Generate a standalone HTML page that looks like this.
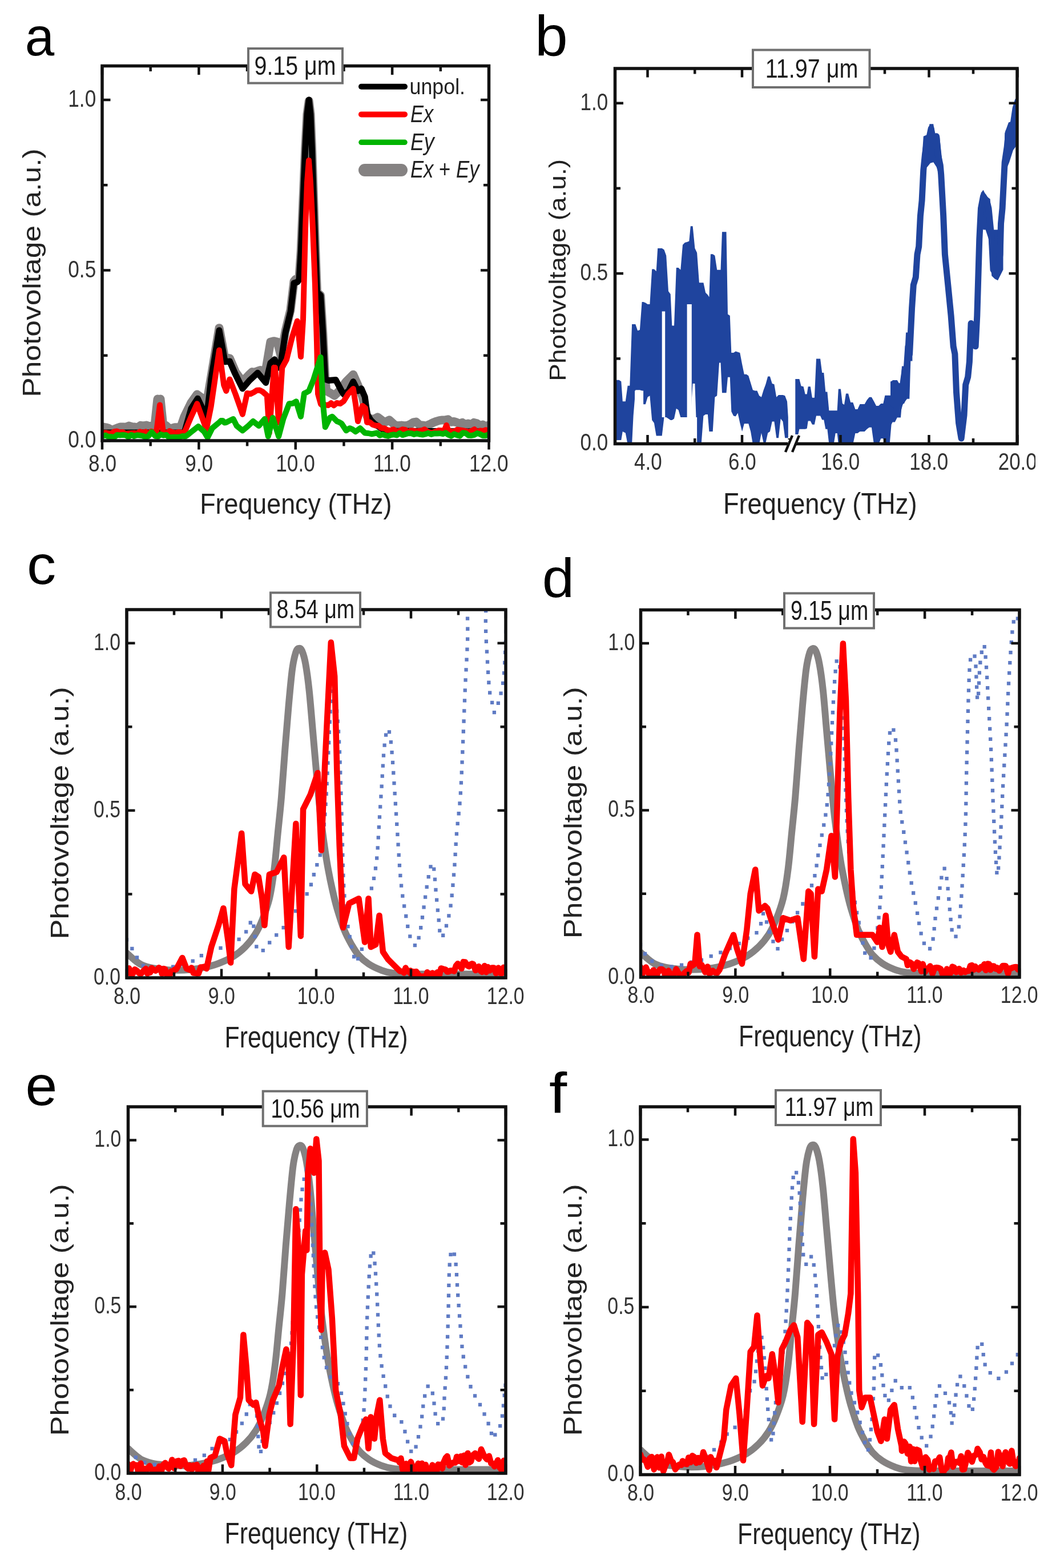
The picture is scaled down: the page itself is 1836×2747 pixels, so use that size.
<!DOCTYPE html>
<html><head><meta charset="utf-8"><style>
html,body{margin:0;padding:0;background:#fff;}
svg{display:block;}
text{font-family:'Liberation Sans', Arial, Helvetica, sans-serif;}
</style></head><body>
<svg width="1836" height="2747" viewBox="0 0 1836 2747">
<rect width="1836" height="2747" fill="#fff"/>
<g id="pa">
<clipPath id="clipa"><rect x="179.00" y="115.50" width="677.50" height="656.50"/></clipPath>
<g clip-path="url(#clipa)">
<polyline points="180.0,748.0 185.1,748.8 190.2,750.3 195.3,753.1 200.4,752.0 205.5,749.8 210.6,748.0 215.7,747.9 220.8,748.2 225.9,746.1 231.0,747.7 236.1,748.1 241.2,748.9 246.3,745.3 251.4,746.2 256.5,745.1 261.6,747.0 266.0,746.0 268.5,747.5 271.0,746.0 276.0,699.0 278.5,700.0 281.0,699.0 286.0,748.0 291.1,745.7 296.2,750.4 301.4,750.3 306.5,748.8 311.6,748.6 316.7,748.0 322.9,730.0 335.0,705.3 345.3,691.0 353.5,697.0 359.6,721.6 369.8,660.4 384.0,574.7 394.3,629.8 398.4,627.1 402.4,627.8 412.7,652.0 424.9,668.6 437.0,656.0 441.8,651.6 446.6,652.1 451.4,650.0 455.9,648.5 460.5,649.8 465.0,652.0 473.9,599.0 479.9,597.7 486.0,599.0 492.2,623.7 500.0,580.0 509.0,543.0 515.0,493.0 518.0,489.2 521.0,490.0 524.0,486.0 527.2,440.0 534.8,260.0 538.0,200.0 541.2,177.0 544.0,200.0 546.5,260.0 552.0,420.0 555.5,512.0 561.6,517.6 565.7,582.9 569.8,664.5 571.8,684.9 576.5,687.4 581.3,690.0 586.0,693.0 594.3,684.9 606.5,668.6 618.8,656.3 627.0,674.7 635.0,695.0 643.3,729.8 649.4,733.9 655.5,734.1 661.6,730.8 673.9,740.0 678.0,738.0 682.0,735.9 692.2,745.1 697.8,745.8 703.5,745.1 709.1,745.9 714.7,745.1 719.5,742.9 724.2,739.9 729.0,739.0 735.1,744.5 741.2,745.1 745.8,746.3 750.4,744.3 755.0,742.3 759.6,740.0 764.7,738.1 769.8,736.6 774.9,735.9 780.0,735.9 785.0,734.8 790.0,739.3 795.0,738.5 800.0,740.0 805.0,742.2 810.0,740.4 815.0,743.8 820.0,742.0 825.1,744.2 830.3,740.4 835.4,741.8 840.6,745.8 845.7,744.0 850.9,747.0 856.0,745.0" fill="none" stroke="#858282" stroke-width="15" stroke-linejoin="round" stroke-linecap="round" />
<polyline points="180.0,758.0 320.0,758.0 322.9,758.0 335.0,715.5 346.3,698.2 357.6,721.6 361.6,736.0 369.8,664.5 384.0,578.8 394.3,633.9 402.4,632.9 412.7,656.3 424.9,680.8 437.1,666.5 451.4,653.3 465.7,670.6 473.9,635.9 481.0,629.8 488.0,644.0 492.0,636.0 500.0,583.0 509.0,546.0 515.0,496.0 521.0,494.0 524.0,490.0 527.2,440.0 534.8,260.0 538.0,200.0 541.2,175.0 544.0,200.0 546.5,260.0 552.0,420.0 555.5,512.0 561.6,517.6 565.7,582.9 569.8,664.5 575.9,666.5 588.2,665.5 598.4,684.9 602.4,691.0 610.6,684.9 618.8,668.6 626.9,684.9 633.0,680.8 639.2,695.1 643.3,725.7 649.4,735.9 655.5,742.0 670.0,752.0 680.0,755.0 856.0,756.0" fill="none" stroke="#000" stroke-width="11" stroke-linejoin="round" stroke-linecap="round" />
<polyline points="180.0,758.4 185.0,758.2 190.0,759.3 195.0,759.4 200.0,756.3 205.0,755.5 210.0,757.6 215.0,757.0 220.0,760.3 225.0,759.5 230.0,759.0 235.0,758.7 240.0,759.4 245.0,756.3 250.0,758.0 255.0,756.4 260.0,760.8 265.0,755.8 270.0,758.4 273.9,758.4 280.0,709.4 286.1,758.4 291.5,759.9 297.0,755.1 302.4,757.3 307.5,758.7 312.6,756.9 317.8,757.6 322.9,758.4 335.0,729.8 345.3,707.3 353.5,729.8 361.6,752.2 369.8,711.4 384.0,613.5 392.2,674.7 396.3,684.9 402.4,664.5 412.7,691.0 424.9,725.7 433.0,689.0 439.1,690.0 445.3,686.9 450.1,683.7 454.8,683.6 459.6,685.9 467.8,693.0 471.8,758.4 480.0,644.0 482.0,644.0 488.2,740.0 494.3,644.0 502.0,630.0 512.0,590.0 520.8,562.4 527.0,625.0 531.0,560.0 535.0,400.0 538.0,320.0 541.0,281.0 544.0,320.0 548.0,400.0 552.0,500.0 555.0,600.0 557.0,690.0 562.0,708.0 566.3,711.2 570.7,709.4 575.0,710.0 580.0,706.2 585.0,710.3 590.0,706.0 596.0,707.2 602.0,703.0 610.0,690.0 618.8,681.0 623.0,708.0 627.0,738.0 635.0,711.0 640.0,715.0 643.0,740.0 648.0,739.7 653.0,744.0 658.0,745.5 663.0,745.8 668.0,750.0 673.3,750.2 678.7,753.4 684.0,754.0 689.3,752.3 694.7,755.8 700.0,755.0 704.9,752.3 709.8,753.0 714.6,756.9 719.5,754.4 724.4,754.5 729.2,755.6 734.1,754.9 739.0,754.3 743.9,752.2 748.8,756.4 753.6,757.8 758.5,757.9 763.4,756.0 768.2,754.1 773.1,754.2 778.0,755.0 782.0,745.0 786.0,755.0 791.0,756.1 796.0,756.0 801.0,752.7 806.0,753.4 811.0,754.2 816.0,755.1 821.0,756.9 826.0,755.0 831.0,752.2 836.0,756.9 841.0,754.6 846.0,755.1 851.0,753.3 856.0,755.0" fill="none" stroke="#ff0000" stroke-width="10" stroke-linejoin="round" stroke-linecap="round" />
<polyline points="180.0,764.0 185.0,762.6 190.0,765.1 195.0,765.1 200.0,766.1 205.0,762.1 210.0,762.4 215.0,761.9 220.0,762.4 225.0,765.4 230.0,761.8 235.0,764.2 240.0,762.3 245.0,762.8 250.0,763.6 255.0,766.0 260.0,764.0 265.7,757.0 272.0,764.0 276.8,764.7 281.6,761.1 286.4,762.7 291.2,761.9 296.0,766.2 300.8,765.9 305.6,765.8 310.4,766.0 315.2,765.5 320.0,764.0 324.3,764.8 328.7,762.0 333.0,758.4 347.3,747.1 357.6,756.3 363.7,766.5 371.8,750.2 384.0,740.0 387.1,737.0 390.2,737.0 393.2,740.6 396.3,740.0 402.5,736.9 408.6,733.9 414.7,746.0 424.9,754.3 435.0,746.0 443.3,738.0 453.5,746.0 463.7,733.9 469.8,764.5 478.0,731.8 488.2,764.5 496.3,733.9 506.5,707.3 512.6,706.8 518.8,703.3 527.0,729.8 533.0,689.0 537.1,687.3 541.2,684.9 549.4,664.5 561.6,625.7 565.7,705.3 569.8,748.2 578.0,731.8 582.0,729.8 590.2,738.0 594.3,739.6 598.4,742.0 606.5,754.3 612.7,750.2 617.8,752.4 622.9,756.3 631.0,750.2 639.2,758.4 645.3,759.0 651.4,760.4 656.0,759.4 660.7,758.4 665.4,762.8 670.0,761.0 675.0,762.8 680.1,763.9 685.1,762.1 690.1,761.3 695.1,762.5 700.2,758.8 705.2,762.1 710.2,760.7 715.2,759.1 720.3,759.2 725.3,761.1 730.3,759.5 735.4,760.8 740.4,761.6 745.4,760.4 750.4,758.8 755.5,760.9 760.5,759.4 765.5,759.4 770.5,759.2 775.6,760.2 780.6,758.4 785.6,761.9 790.6,763.7 795.7,760.3 800.7,762.3 805.7,763.6 810.8,758.3 815.8,758.9 820.8,762.8 825.8,763.0 830.9,761.8 835.9,759.0 840.9,760.5 845.9,763.2 851.0,763.3 856.0,761.0" fill="none" stroke="#00b400" stroke-width="10" stroke-linejoin="round" stroke-linecap="round" />
</g>
</g>
<g id="pb">
<clipPath id="clipb"><rect x="1077.50" y="120.00" width="704.50" height="657.50"/></clipPath>
<g clip-path="url(#clipb)">
<polygon points="1080.0,665.7 1084.5,665.7 1088.3,668.2 1090.8,703.3 1095.8,703.3 1099.6,675.7 1103.3,675.7 1107.1,568.0 1109.6,568.0 1113.3,568.0 1117.1,579.2 1120.9,578.0 1124.6,529.1 1127.1,529.1 1130.9,530.4 1134.6,532.9 1138.4,532.9 1142.2,471.5 1145.9,471.5 1149.7,475.2 1152.2,435.1 1155.9,435.1 1159.7,435.1 1163.5,437.6 1167.2,447.7 1171.0,510.3 1174.7,515.3 1177.3,570.5 1181.0,570.5 1184.8,469.0 1188.5,469.0 1192.3,472.7 1196.0,428.9 1199.8,425.1 1203.6,423.9 1207.3,422.6 1209.8,396.3 1213.6,396.3 1217.4,435.1 1221.1,442.7 1224.9,495.3 1228.6,495.3 1232.4,495.3 1236.1,512.8 1239.9,516.6 1242.4,520.4 1244.9,445.2 1248.7,445.2 1252.4,447.7 1256.2,472.7 1260.0,472.7 1262.5,472.7 1265.0,406.3 1268.7,406.3 1272.5,406.3 1275.0,550.4 1278.8,552.9 1281.3,618.1 1285.0,618.1 1288.8,615.6 1292.5,616.8 1296.3,618.1 1300.1,638.1 1303.8,655.7 1307.6,655.7 1311.3,658.2 1315.1,670.7 1318.9,683.3 1322.6,684.5 1326.4,684.5 1330.1,693.3 1333.9,695.8 1337.7,683.3 1341.4,673.2 1345.2,659.4 1348.9,659.4 1352.7,672.0 1356.4,673.2 1360.2,695.8 1364.0,692.0 1367.7,692.0 1371.5,692.0 1375.2,693.3 1379.0,703.3 1380.8,730.9 1380.8,767.2 1379.0,767.2 1375.2,767.2 1371.5,738.4 1367.7,733.4 1364.0,767.2 1360.2,767.2 1356.4,738.4 1352.7,738.4 1348.9,755.9 1345.2,758.4 1341.4,776.0 1337.7,776.0 1333.9,758.4 1330.1,778.5 1326.4,778.5 1322.6,778.5 1318.9,778.5 1315.1,755.9 1311.3,742.2 1307.6,742.2 1303.8,742.2 1300.1,755.9 1296.3,740.9 1292.5,723.4 1288.8,729.6 1285.0,728.4 1281.3,720.9 1278.8,660.7 1275.0,660.7 1272.5,688.3 1268.7,688.3 1265.0,688.3 1262.5,635.6 1260.0,635.6 1256.2,693.3 1252.4,695.8 1248.7,755.9 1244.9,755.9 1242.4,755.9 1239.9,725.9 1236.1,725.9 1232.4,728.4 1228.6,778.5 1224.9,778.5 1221.1,778.5 1217.4,672.0 1213.6,672.0 1209.8,730.9 1207.3,730.9 1203.6,730.9 1199.8,730.9 1196.0,730.9 1192.3,730.9 1188.5,718.3 1184.8,715.8 1181.0,733.4 1177.3,735.9 1174.7,735.9 1171.0,733.4 1167.2,730.9 1163.5,730.9 1159.7,763.5 1155.9,763.5 1152.2,763.5 1149.7,763.5 1145.9,740.9 1142.2,735.9 1138.4,693.3 1134.6,695.8 1130.9,708.3 1127.1,708.3 1124.6,684.5 1120.9,683.3 1117.1,683.3 1113.3,683.3 1109.6,728.4 1107.1,778.5 1103.3,778.5 1099.6,778.5 1095.8,758.4 1090.8,755.9 1088.3,771.0 1084.5,771.0 1080.0,771.0" fill="#1f449e"/>
<polygon points="1393.3,664.1 1398.4,664.1 1400.4,664.1 1403.5,676.3 1407.6,677.3 1410.6,690.6 1413.7,690.6 1415.7,677.3 1419.8,677.3 1422.9,696.7 1426.9,696.7 1430.0,628.4 1434.1,628.4 1437.1,628.4 1440.2,652.9 1443.3,652.9 1446.3,686.5 1449.4,686.5 1452.4,719.2 1456.5,719.2 1460.6,719.2 1463.7,719.2 1466.7,719.2 1468.8,681.4 1472.9,681.4 1475.9,706.9 1479.0,709.0 1482.0,689.6 1486.1,689.6 1490.2,704.9 1494.3,704.9 1498.4,717.1 1502.4,717.1 1506.5,708.0 1510.6,708.0 1514.7,708.0 1518.8,700.8 1522.9,695.7 1526.9,695.7 1531.0,702.9 1535.1,711.0 1539.2,711.0 1543.3,706.9 1547.3,706.9 1550.4,692.7 1554.5,692.7 1558.6,692.7 1561.6,692.7 1563.7,666.1 1567.8,666.1 1571.8,666.1 1574.9,671.2 1578.0,671.2 1580.0,641.6 1584.1,641.6 1587.1,582.4 1590.2,582.4 1593.3,582.4 1595.3,560.0 1598.4,560.0 1598.4,632.4 1595.3,632.4 1593.3,698.8 1590.2,698.8 1587.1,698.8 1584.1,706.9 1580.0,706.9 1578.0,731.4 1574.9,731.4 1571.8,731.4 1567.8,739.6 1563.7,739.6 1561.6,743.7 1558.6,778.4 1554.5,778.4 1550.4,778.4 1547.3,768.2 1543.3,768.2 1539.2,778.4 1535.1,778.4 1531.0,778.4 1526.9,748.8 1522.9,748.8 1518.8,751.8 1514.7,755.9 1510.6,755.9 1506.5,755.9 1502.4,759.0 1498.4,759.0 1494.3,778.4 1490.2,778.4 1486.1,778.4 1482.0,778.4 1479.0,778.4 1475.9,778.4 1472.9,778.4 1468.8,778.4 1466.7,759.0 1463.7,759.0 1460.6,778.4 1456.5,778.4 1452.4,778.4 1449.4,751.8 1446.3,751.8 1443.3,735.5 1440.2,735.5 1437.1,728.4 1434.1,728.4 1430.0,728.4 1426.9,743.7 1422.9,743.7 1419.8,737.6 1415.7,737.6 1413.7,750.8 1410.6,751.8 1407.6,751.8 1403.5,751.8 1400.4,751.8 1398.4,761.0 1393.3,761.0" fill="#1f449e"/>
<polygon points="1615.1,279.0 1617.8,238.7 1624.5,236.0 1628.5,217.2 1635.2,217.2 1637.9,236.0 1646.0,238.7 1651.4,289.7 1654.0,311.2 1651.4,316.6 1647.3,313.9 1640.6,292.4 1635.2,284.3 1629.9,285.7 1624.5,292.4 1620.5,295.1 1617.8,311.2 1615.1,338.1" fill="#1f449e"/>
<polygon points="1718.5,338.1 1722.6,332.7 1727.9,343.5 1734.7,348.8 1737.3,402.6 1745.4,402.6 1753.5,402.6 1757.5,418.7 1757.5,472.4 1748.1,491.2 1742.7,488.6 1737.3,483.2 1732.0,418.7 1726.6,402.6 1722.6,402.6 1718.5,391.8" fill="#1f449e"/>
<polygon points="1760.2,233.3 1766.9,214.5 1775.0,211.8 1779.0,182.2 1783.0,176.9 1783.0,252.1 1775.0,262.9 1768.2,284.3 1761.5,300.5 1758.8,300.5" fill="#1f449e"/>
<polygon points="1560.0,668.6 1565.4,665.9 1576.1,674.0 1580.2,644.4 1586.9,639.0 1590.9,585.3 1597.6,579.9 1597.6,620.2 1592.2,633.6 1589.6,698.1 1581.5,708.9 1576.1,727.7 1568.1,733.1 1560.0,735.8" fill="#1f449e"/>
<polygon points="1159.7,545.4 1165.2,545.4 1165.2,730.9 1159.7,730.9" fill="#fff"/>
<polygon points="1203.6,532.9 1211.8,532.9 1211.8,730.9 1203.6,730.9" fill="#fff"/>
<polygon points="1199.8,730.9 1221.1,730.9 1221.1,781.0 1199.8,781.0" fill="#fff"/>
<polygon points="1112.1,684.5 1127.1,684.5 1127.1,781.0 1112.1,781.0" fill="#fff"/>
<polyline points="1560.0,700.8 1565.4,708.9 1568.1,676.6 1572.1,722.3 1576.1,682.0 1580.2,700.8 1584.2,660.5 1588.2,647.1 1590.9,606.8 1593.6,620.2 1597.6,539.6 1600.3,499.3 1604.3,485.9 1607.0,445.6 1609.7,432.1 1612.4,378.4 1615.1,351.5 1617.8,297.8 1620.5,270.9 1623.1,252.1 1627.2,244.0 1631.2,225.2 1635.2,246.7 1640.6,238.7 1643.3,270.9 1647.3,289.7 1648.7,305.8 1652.7,378.4 1655.4,445.6 1660.8,499.3 1666.1,553.0 1670.2,606.8 1672.9,620.2 1675.5,687.4 1679.6,741.1 1684.1,768.0 1689.0,727.7 1691.7,674.0 1695.7,660.5 1698.4,633.6 1701.1,566.5 1706.4,585.3 1709.1,606.8 1711.8,553.0 1715.8,418.7 1718.5,365.0 1722.6,343.5 1729.3,354.2 1732.0,365.0 1737.3,418.7 1740.0,472.4 1745.4,480.5 1749.4,467.1 1752.1,445.6 1753.5,391.8 1756.1,365.0 1760.2,284.3 1764.2,257.5 1766.9,230.6 1772.3,225.2 1775.0,217.2 1779.0,190.3 1783.0,176.9" fill="none" stroke="#1f449e" stroke-width="11" stroke-linejoin="round" stroke-linecap="round" />
</g>
</g>
<g id="pc">
<clipPath id="clipc"><rect x="222.00" y="1068.00" width="664.00" height="645.00"/></clipPath>
<g clip-path="url(#clipc)">
<path d="M222.0,1669.6 C224.1,1671.5 230.5,1677.6 234.7,1681.0 C238.9,1684.4 242.5,1687.5 247.4,1689.9 C252.3,1692.3 258.0,1694.0 264.3,1695.4 C270.7,1696.8 278.5,1697.7 285.5,1698.4 C292.6,1699.1 298.9,1699.6 306.7,1699.6 C314.5,1699.7 323.6,1699.6 332.1,1698.8 C340.6,1698.0 349.0,1696.8 357.5,1695.0 C366.0,1693.2 374.5,1691.0 382.9,1687.8 C391.4,1684.6 400.6,1680.7 408.3,1675.9 C416.1,1671.1 423.2,1665.3 429.5,1659.0 C435.9,1652.6 441.5,1645.6 446.4,1637.8 C451.4,1630.1 454.9,1623.0 459.1,1612.4 C463.4,1601.8 468.3,1589.1 471.9,1574.3 C475.4,1559.5 477.9,1542.5 480.3,1523.5 C482.8,1504.4 484.6,1481.1 486.7,1460.0 C488.8,1438.8 490.9,1421.1 493.0,1396.4 C495.1,1371.7 497.3,1338.6 499.4,1311.7 C501.5,1284.9 503.6,1258.8 505.7,1235.5 C507.8,1212.2 510.0,1187.5 512.1,1172.0 C514.2,1156.5 516.5,1148.3 518.4,1142.3 C520.3,1136.3 521.8,1136.3 523.5,1136.0 C525.3,1135.6 527.0,1135.6 529.0,1140.2 C531.0,1144.8 533.3,1151.9 535.4,1163.5 C537.5,1175.2 539.6,1190.3 541.7,1210.1 C543.8,1229.9 546.0,1258.1 548.1,1282.1 C550.2,1306.1 552.3,1330.8 554.4,1354.1 C556.5,1377.4 558.7,1402.1 560.8,1421.8 C562.9,1441.6 565.0,1457.1 567.1,1472.7 C569.3,1488.2 571.0,1500.9 573.5,1515.0 C576.0,1529.1 579.1,1544.7 582.0,1557.4 C584.8,1570.1 586.9,1579.2 590.4,1591.2 C594.0,1603.2 598.9,1618.8 603.1,1629.3 C607.4,1639.9 611.6,1647.3 615.8,1654.8 C620.1,1662.2 623.6,1668.2 628.5,1673.8 C633.5,1679.5 639.1,1684.4 645.5,1688.6 C651.8,1692.9 659.6,1696.5 666.7,1699.2 C673.7,1701.9 677.2,1703.5 687.8,1704.7 C698.4,1705.9 697.1,1706.1 730.2,1706.4 C763.2,1706.7 860.0,1706.4 886.0,1706.4" fill="none" stroke="#858282" stroke-width="12" stroke-linejoin="round" stroke-linecap="round" />
<path d="M222.0,1646.3 C224.1,1649.8 230.5,1660.4 234.7,1667.5 C238.9,1674.5 242.5,1683.7 247.4,1688.6 C252.3,1693.6 258.0,1695.7 264.3,1697.1 C270.7,1698.5 278.5,1697.8 285.5,1697.1 C292.6,1696.4 298.9,1694.6 306.7,1692.9 C314.5,1691.1 325.0,1689.3 332.1,1686.5 C339.2,1683.7 342.7,1679.1 349.0,1675.9 C355.4,1672.8 363.2,1670.3 370.2,1667.5 C377.3,1664.6 384.3,1661.8 391.4,1659.0 C398.4,1656.2 405.5,1655.5 412.6,1650.5 C419.6,1645.6 428.8,1635.7 433.7,1629.3 C438.7,1623.0 439.4,1606.8 442.2,1612.4 C445.0,1618.1 447.1,1654.8 450.7,1663.2 C454.2,1671.7 459.1,1666.0 463.4,1663.2 C467.6,1660.4 471.1,1651.9 476.1,1646.3 C481.0,1640.6 487.4,1635.7 493.0,1629.3 C498.7,1623.0 504.3,1615.9 510.0,1608.2 C515.6,1600.4 522.7,1589.1 526.9,1582.8 C531.1,1576.4 532.6,1575.0 535.4,1570.1 C538.2,1565.1 541.0,1560.9 543.8,1553.1 C546.7,1545.4 549.5,1532.7 552.3,1523.5 C555.1,1514.3 558.3,1510.1 560.8,1498.1 C563.3,1486.1 565.4,1468.4 567.1,1451.5 C568.9,1434.5 570.0,1419.7 571.4,1396.4 C572.8,1373.1 574.2,1340.0 575.6,1311.7 C577.0,1283.5 578.4,1246.8 579.8,1227.0 C581.3,1207.3 582.3,1189.6 584.1,1193.2 C585.8,1196.7 588.7,1228.5 590.4,1248.2 C592.2,1268.0 593.2,1280.0 594.7,1311.7 C596.1,1343.5 597.8,1403.5 598.9,1438.8 C600.0,1474.1 600.3,1502.3 601.0,1523.5 C601.7,1544.7 602.1,1551.7 603.1,1565.8 C604.2,1579.9 605.6,1594.8 607.4,1608.2 C609.1,1621.6 611.6,1635.0 613.7,1646.3 C615.8,1657.6 618.3,1669.6 620.1,1675.9 C621.8,1682.3 621.5,1688.6 624.3,1684.4 C627.1,1680.2 633.5,1668.2 637.0,1650.5 C640.5,1632.9 642.7,1596.2 645.5,1578.5 C648.3,1560.9 651.5,1557.4 653.9,1544.7 C656.4,1531.9 658.5,1519.9 660.3,1502.3 C662.1,1484.7 663.1,1460.0 664.5,1438.8 C665.9,1417.6 667.4,1396.4 668.8,1375.3 C670.2,1354.1 671.4,1328.0 673.0,1311.7 C674.6,1295.5 676.7,1281.4 678.5,1277.9 C680.3,1274.3 682.0,1281.4 683.6,1290.6 C685.1,1299.7 686.4,1315.3 687.8,1332.9 C689.2,1350.6 690.6,1375.3 692.1,1396.4 C693.5,1417.6 694.9,1438.8 696.3,1460.0 C697.7,1481.1 699.1,1505.8 700.5,1523.5 C701.9,1541.1 703.0,1552.4 704.8,1565.8 C706.5,1579.2 709.0,1591.9 711.1,1603.9 C713.2,1615.9 715.0,1629.3 717.5,1637.8 C719.9,1646.3 723.8,1651.9 725.9,1654.8 C728.1,1657.6 728.4,1659.0 730.2,1654.8 C731.9,1650.5 734.4,1640.6 736.5,1629.3 C738.6,1618.1 740.8,1601.1 742.9,1587.0 C745.0,1572.9 747.1,1556.7 749.2,1544.7 C751.3,1532.7 753.8,1519.2 755.6,1515.0 C757.3,1510.8 758.4,1510.8 759.8,1519.2 C761.2,1527.7 762.6,1551.0 764.1,1565.8 C765.5,1580.6 766.9,1595.5 768.3,1608.2 C769.7,1620.9 770.4,1639.2 772.5,1642.1 C774.6,1644.9 778.2,1634.3 781.0,1625.1 C783.8,1615.9 787.0,1603.9 789.5,1587.0 C791.9,1570.1 794.0,1544.7 795.8,1523.5 C797.6,1502.3 798.3,1481.1 800.0,1460.0 C801.8,1438.8 804.6,1421.1 806.4,1396.4 C808.2,1371.7 809.2,1343.5 810.6,1311.7 C812.0,1280.0 813.5,1237.6 814.9,1205.9 C816.3,1174.1 818.0,1152.9 819.1,1121.2 C820.2,1089.4 816.3,1032.9 821.2,1015.3 C826.2,997.7 843.8,1001.2 848.7,1015.3 C853.7,1029.4 850.2,1078.8 850.9,1100.0 C851.6,1121.2 851.9,1124.7 853.0,1142.3 C854.0,1160.0 855.8,1191.8 857.2,1205.9 C858.6,1220.0 860.0,1220.0 861.5,1227.0 C862.9,1234.1 863.6,1248.2 865.7,1248.2 C867.8,1248.2 871.3,1237.6 874.2,1227.0 C877.0,1216.5 880.5,1205.9 882.6,1184.7 C884.7,1163.5 886.2,1114.1 886.9,1100.0" fill="none" stroke="#5f7bc4" stroke-width="6.3" stroke-dasharray="0 18" stroke-linecap="square"/>
<polyline points="222.0,1705.6 226.0,1696.3 230.0,1706.6 232.4,1706.4 236.2,1698.3 240.3,1700.9 243.4,1704.9 246.9,1706.3 249.7,1702.8 252.2,1700.0 255.4,1697.0 258.3,1705.9 260.9,1700.2 263.2,1703.7 265.6,1695.9 269.3,1698.7 272.6,1700.6 275.8,1698.4 278.3,1695.2 281.0,1697.0 283.8,1706.1 286.5,1697.1 289.2,1697.9 293.1,1709.4 296.8,1709.3 300.1,1701.7 303.0,1702.6 305.7,1698.6 308.7,1698.3 319.4,1678.0 327.0,1697.4 329.5,1697.9 333.2,1699.5 335.5,1695.4 338.8,1704.6 342.0,1704.8 345.3,1705.7 347.9,1705.4 351.6,1694.5 354.3,1694.4 358.0,1693.5 361.7,1697.1 370.2,1659.0 382.9,1620.9 391.4,1591.2 399.9,1650.5 404.1,1686.5 410.4,1557.4 423.2,1460.0 429.5,1548.9 440.1,1561.6 446.4,1531.9 452.8,1536.2 459.1,1574.3 463.4,1620.9 471.9,1531.9 484.6,1527.7 497.3,1502.3 505.7,1659.0 518.4,1443.0 526.9,1639.9 531.1,1417.6 543.8,1392.2 556.5,1354.1 562.9,1489.6 569.3,1337.1 579.8,1125.4 586.2,1184.7 590.4,1354.1 594.7,1481.1 601.0,1625.1 611.6,1582.8 628.5,1574.3 639.1,1650.5 645.5,1574.3 649.7,1659.0 658.2,1654.8 664.5,1603.9 670.9,1667.5 679.4,1680.2 687.8,1688.6 700.5,1701.3 705.0,1701.9 707.8,1704.5 710.6,1695.6 713.5,1701.3 716.5,1703.1 719.0,1700.4 721.3,1710.3 724.5,1702.2 727.0,1707.2 729.3,1702.0 732.8,1707.4 736.4,1711.7 739.3,1710.4 743.1,1711.0 746.3,1710.4 748.6,1703.2 752.0,1708.1 755.4,1706.1 757.7,1704.6 760.4,1708.6 763.1,1709.2 766.3,1703.3 769.7,1708.5 772.6,1696.4 776.5,1697.5 780.5,1698.5 783.5,1702.5 785.9,1702.3 788.7,1700.6 792.8,1700.6 795.7,1701.5 798.9,1691.9 801.9,1688.2 805.3,1691.8 808.6,1696.8 811.8,1685.1 815.1,1685.5 818.5,1691.5 821.6,1693.3 824.0,1689.7 826.7,1688.3 829.1,1689.1 833.0,1700.0 836.4,1698.2 838.7,1693.1 842.3,1701.3 844.7,1702.9 848.8,1692.0 851.8,1703.2 854.7,1693.9 858.1,1700.4 861.8,1695.6 865.0,1695.6 869.0,1705.3 873.1,1695.5 875.7,1704.6 878.8,1705.2 882.3,1694.8 884.8,1703.9 886.0,1699.2" fill="none" stroke="#ff0000" stroke-width="10.5" stroke-linejoin="round" stroke-linecap="round" />
</g>
</g>
<g id="pd">
<clipPath id="clipd"><rect x="1122.50" y="1068.50" width="663.50" height="643.50"/></clipPath>
<g clip-path="url(#clipd)">
<path d="M1122.5,1668.7 C1124.6,1670.6 1131.0,1676.7 1135.2,1680.1 C1139.4,1683.5 1143.0,1686.6 1147.9,1689.0 C1152.8,1691.3 1158.5,1693.0 1164.8,1694.4 C1171.2,1695.9 1178.9,1696.7 1186.0,1697.4 C1193.0,1698.1 1199.4,1698.6 1207.1,1698.7 C1214.9,1698.7 1224.1,1698.6 1232.5,1697.8 C1241.0,1697.1 1249.4,1695.9 1257.9,1694.0 C1266.4,1692.2 1274.8,1690.0 1283.3,1686.8 C1291.8,1683.7 1300.9,1679.8 1308.7,1675.0 C1316.4,1670.2 1323.5,1664.4 1329.8,1658.1 C1336.2,1651.8 1341.8,1644.7 1346.8,1637.0 C1351.7,1629.2 1355.2,1622.2 1359.5,1611.6 C1363.7,1601.1 1368.6,1588.4 1372.2,1573.6 C1375.7,1558.8 1378.2,1541.9 1380.6,1522.9 C1383.1,1503.9 1384.9,1480.6 1387.0,1459.5 C1389.1,1438.4 1391.2,1420.8 1393.3,1396.1 C1395.4,1371.5 1397.6,1338.4 1399.7,1311.6 C1401.8,1284.8 1403.9,1258.8 1406.0,1235.5 C1408.1,1212.3 1410.2,1187.6 1412.4,1172.1 C1414.5,1156.7 1416.8,1148.6 1418.7,1142.6 C1420.6,1136.6 1422.0,1136.6 1423.8,1136.2 C1425.6,1135.9 1427.3,1135.9 1429.3,1140.5 C1431.3,1145.0 1433.5,1152.1 1435.6,1163.7 C1437.8,1175.3 1439.9,1190.5 1442.0,1210.2 C1444.1,1229.9 1446.2,1258.1 1448.3,1282.0 C1450.4,1306.0 1452.6,1330.6 1454.7,1353.9 C1456.8,1377.1 1458.9,1401.7 1461.0,1421.5 C1463.1,1441.2 1465.3,1456.7 1467.4,1472.2 C1469.5,1487.7 1471.3,1500.3 1473.7,1514.4 C1476.2,1528.5 1479.4,1544.0 1482.2,1556.7 C1485.0,1569.4 1487.1,1578.5 1490.6,1590.5 C1494.2,1602.5 1499.1,1618.0 1503.3,1628.5 C1507.6,1639.1 1511.8,1646.5 1516.0,1653.9 C1520.3,1661.3 1523.8,1667.3 1528.7,1672.9 C1533.7,1678.5 1539.3,1683.5 1545.7,1687.7 C1552.0,1691.9 1559.8,1695.6 1566.8,1698.3 C1573.9,1700.9 1577.4,1702.5 1588.0,1703.7 C1598.6,1704.9 1597.3,1705.2 1630.3,1705.4 C1663.3,1705.7 1760.1,1705.4 1786.0,1705.4" fill="none" stroke="#858282" stroke-width="12" stroke-linejoin="round" stroke-linecap="round" />
<path d="M1122.0,1654.8 C1123.4,1657.6 1126.9,1666.8 1130.5,1671.7 C1134.0,1676.6 1137.5,1680.9 1143.2,1684.4 C1148.8,1687.9 1157.3,1691.5 1164.3,1692.9 C1171.4,1694.3 1178.5,1693.9 1185.5,1692.9 C1192.6,1691.8 1199.6,1688.3 1206.7,1686.5 C1213.8,1684.8 1220.8,1684.4 1227.9,1682.3 C1234.9,1680.2 1242.0,1676.6 1249.0,1673.8 C1256.1,1671.0 1263.2,1668.5 1270.2,1665.3 C1277.3,1662.2 1284.3,1658.6 1291.4,1654.8 C1298.4,1650.9 1306.2,1646.3 1312.6,1642.1 C1318.9,1637.8 1325.3,1636.4 1329.5,1629.3 C1333.7,1622.3 1335.2,1599.7 1338.0,1599.7 C1340.8,1599.7 1343.6,1620.9 1346.4,1629.3 C1349.3,1637.8 1352.4,1644.9 1354.9,1650.5 C1357.4,1656.2 1358.4,1664.6 1361.3,1663.2 C1364.1,1661.8 1368.0,1649.1 1371.9,1642.1 C1375.7,1635.0 1379.6,1629.3 1384.6,1620.9 C1389.5,1612.4 1396.6,1599.7 1401.5,1591.2 C1406.4,1582.8 1410.0,1579.2 1414.2,1570.1 C1418.4,1560.9 1423.7,1548.2 1426.9,1536.2 C1430.1,1524.2 1431.1,1510.1 1433.3,1498.1 C1435.4,1486.1 1437.5,1475.5 1439.6,1464.2 C1441.7,1452.9 1444.2,1441.6 1446.0,1430.3 C1447.7,1419.0 1448.8,1412.0 1450.2,1396.4 C1451.6,1380.9 1453.0,1361.1 1454.4,1337.1 C1455.8,1313.2 1457.3,1277.9 1458.7,1252.5 C1460.1,1227.0 1461.5,1200.9 1462.9,1184.7 C1464.3,1168.5 1465.4,1155.1 1467.1,1155.1 C1468.9,1155.1 1471.7,1165.6 1473.5,1184.7 C1475.3,1203.8 1476.3,1234.1 1477.7,1269.4 C1479.1,1304.7 1480.5,1361.1 1482.0,1396.4 C1483.4,1431.7 1484.4,1456.4 1486.2,1481.1 C1488.0,1505.8 1490.4,1527.0 1492.5,1544.7 C1494.7,1562.3 1496.4,1572.9 1498.9,1587.0 C1501.4,1601.1 1504.5,1615.2 1507.4,1629.3 C1510.2,1643.5 1513.4,1663.2 1515.8,1671.7 C1518.3,1680.2 1520.1,1680.2 1522.2,1680.2 C1524.3,1680.2 1526.4,1678.0 1528.5,1671.7 C1530.7,1665.3 1532.8,1655.5 1534.9,1642.1 C1537.0,1628.6 1539.5,1611.0 1541.2,1591.2 C1543.0,1571.5 1544.1,1548.9 1545.5,1523.5 C1546.9,1498.1 1548.3,1467.0 1549.7,1438.8 C1551.1,1410.6 1552.5,1378.8 1553.9,1354.1 C1555.4,1329.4 1556.8,1304.0 1558.2,1290.6 C1559.6,1277.2 1560.7,1272.9 1562.4,1273.6 C1564.2,1274.3 1567.0,1281.4 1568.8,1294.8 C1570.5,1308.2 1571.6,1333.6 1573.0,1354.1 C1574.4,1374.6 1575.5,1400.0 1577.2,1417.6 C1579.0,1435.3 1581.5,1445.8 1583.6,1460.0 C1585.7,1474.1 1587.8,1488.2 1589.9,1502.3 C1592.1,1516.4 1593.8,1530.5 1596.3,1544.7 C1598.8,1558.8 1601.9,1572.2 1604.8,1587.0 C1607.6,1601.8 1610.4,1621.6 1613.2,1633.6 C1616.1,1645.6 1619.2,1654.0 1621.7,1659.0 C1624.2,1663.9 1625.9,1665.3 1628.1,1663.2 C1630.2,1661.1 1632.6,1655.5 1634.4,1646.3 C1636.2,1637.1 1636.9,1621.6 1638.6,1608.2 C1640.4,1594.8 1642.9,1579.2 1645.0,1565.8 C1647.1,1552.4 1649.6,1534.8 1651.3,1527.7 C1653.1,1520.7 1654.2,1519.9 1655.6,1523.5 C1657.0,1527.0 1658.4,1536.9 1659.8,1548.9 C1661.2,1560.9 1662.6,1581.4 1664.1,1595.5 C1665.5,1609.6 1666.9,1625.8 1668.3,1633.6 C1669.7,1641.3 1670.8,1642.8 1672.5,1642.1 C1674.3,1641.3 1677.1,1638.5 1678.9,1629.3 C1680.6,1620.2 1681.7,1604.6 1683.1,1587.0 C1684.5,1569.4 1685.9,1548.2 1687.3,1523.5 C1688.8,1498.8 1690.5,1470.5 1691.6,1438.8 C1692.6,1407.0 1692.6,1375.3 1693.7,1332.9 C1694.8,1290.6 1696.5,1215.4 1697.9,1184.7 C1699.3,1154.0 1700.4,1153.6 1702.2,1148.7 C1703.9,1143.8 1706.8,1142.0 1708.5,1155.1 C1710.3,1168.1 1711.3,1225.6 1712.8,1227.0 C1714.2,1228.5 1715.2,1179.8 1717.0,1163.5 C1718.8,1147.3 1721.6,1129.6 1723.3,1129.6 C1725.1,1129.6 1726.2,1145.9 1727.6,1163.5 C1729.0,1181.2 1730.4,1210.8 1731.8,1235.5 C1733.2,1260.2 1734.6,1281.4 1736.0,1311.7 C1737.5,1342.1 1738.9,1385.8 1740.3,1417.6 C1741.7,1449.4 1743.2,1483.2 1744.5,1502.3 C1745.8,1521.4 1746.5,1539.0 1747.9,1531.9 C1749.3,1524.9 1751.4,1486.1 1753.0,1460.0 C1754.5,1433.8 1755.5,1407.0 1757.2,1375.3 C1759.0,1343.5 1761.8,1301.2 1763.6,1269.4 C1765.3,1237.6 1766.0,1212.9 1767.8,1184.7 C1769.6,1156.5 1772.0,1117.6 1774.2,1100.0 C1776.3,1082.4 1778.4,1078.8 1780.5,1078.8 C1782.6,1078.8 1785.8,1096.5 1786.9,1100.0" fill="none" stroke="#5f7bc4" stroke-width="6.3" stroke-dasharray="0 18" stroke-linecap="square"/>
<polyline points="1122.0,1694.1 1125.4,1706.6 1128.9,1699.6 1131.7,1694.6 1135.8,1705.1 1138.6,1703.1 1142.2,1708.6 1144.9,1699.4 1147.5,1704.0 1151.6,1706.6 1154.1,1701.1 1156.5,1698.0 1159.6,1698.1 1162.4,1699.9 1165.5,1709.8 1168.1,1705.9 1171.2,1700.5 1174.0,1707.8 1177.8,1706.5 1181.8,1705.8 1184.6,1697.6 1187.9,1703.5 1191.7,1708.4 1195.4,1709.7 1199.0,1704.8 1202.7,1701.1 1206.5,1703.7 1209.7,1688.4 1212.7,1692.0 1217.3,1688.6 1221.5,1637.8 1225.8,1692.9 1229.0,1690.2 1232.0,1695.2 1235.5,1703.3 1239.6,1693.4 1242.6,1705.6 1245.9,1704.0 1248.6,1700.6 1252.5,1703.8 1256.5,1704.6 1260.5,1699.2 1270.2,1671.7 1285.0,1637.8 1291.4,1663.2 1299.9,1688.6 1308.3,1629.3 1314.7,1565.8 1323.2,1523.5 1329.5,1595.5 1340.1,1587.0 1344.3,1591.2 1352.8,1616.6 1363.4,1646.3 1371.9,1608.2 1384.6,1612.4 1397.3,1608.2 1407.8,1680.2 1416.3,1561.6 1420.6,1565.8 1426.9,1675.9 1433.3,1557.4 1439.6,1561.6 1448.1,1523.5 1456.5,1464.2 1462.9,1536.2 1467.1,1396.4 1471.4,1248.2 1476.9,1127.5 1482.0,1227.0 1486.2,1396.4 1490.4,1523.5 1494.7,1587.0 1501.0,1637.8 1511.6,1637.8 1528.5,1637.8 1537.0,1650.5 1541.2,1625.1 1545.5,1659.0 1551.8,1603.9 1556.1,1654.8 1560.3,1667.5 1566.7,1637.8 1573.0,1667.5 1579.4,1675.9 1587.8,1680.2 1590.0,1691.0 1594.0,1685.8 1597.0,1687.9 1600.8,1697.7 1604.3,1690.1 1606.7,1686.2 1609.1,1687.3 1611.3,1692.1 1614.1,1701.7 1616.7,1688.8 1620.6,1702.7 1623.8,1697.4 1626.7,1696.1 1629.5,1692.5 1633.6,1706.1 1637.5,1695.7 1641.0,1695.1 1644.6,1695.7 1648.0,1697.4 1652.1,1709.5 1655.2,1709.6 1658.9,1697.4 1662.8,1708.1 1665.5,1704.3 1668.4,1693.5 1671.5,1694.8 1675.3,1703.3 1678.0,1698.1 1680.4,1697.1 1683.8,1704.1 1687.9,1699.9 1691.0,1703.1 1694.3,1700.9 1697.2,1701.0 1699.9,1692.1 1702.5,1690.9 1706.0,1699.0 1708.3,1692.9 1710.9,1696.4 1714.6,1698.7 1718.7,1693.9 1721.4,1695.5 1724.5,1689.1 1727.0,1699.8 1730.1,1688.5 1732.7,1689.0 1735.1,1699.2 1738.2,1692.4 1741.1,1692.4 1744.3,1697.4 1746.7,1695.3 1750.6,1700.5 1753.8,1695.8 1756.7,1692.1 1759.5,1691.9 1761.8,1692.2 1766.0,1705.9 1768.3,1696.4 1770.7,1696.6 1774.2,1695.1 1777.3,1694.2 1780.5,1694.0 1783.3,1698.4 1786.0,1697.1" fill="none" stroke="#ff0000" stroke-width="10.5" stroke-linejoin="round" stroke-linecap="round" />
</g>
</g>
<g id="pe">
<clipPath id="clipe"><rect x="224.50" y="1939.00" width="661.50" height="642.00"/></clipPath>
<g clip-path="url(#clipe)">
<path d="M224.5,2537.8 C226.6,2539.7 232.9,2545.8 237.2,2549.2 C241.4,2552.5 244.9,2555.6 249.8,2558.0 C254.7,2560.4 260.4,2562.1 266.7,2563.5 C273.0,2564.9 280.8,2565.7 287.8,2566.4 C294.8,2567.1 301.1,2567.6 308.9,2567.7 C316.6,2567.8 325.8,2567.6 334.2,2566.9 C342.6,2566.1 351.1,2564.9 359.5,2563.1 C367.9,2561.2 376.4,2559.1 384.8,2555.9 C393.3,2552.7 402.4,2548.9 410.1,2544.1 C417.9,2539.3 424.9,2533.6 431.2,2527.2 C437.6,2520.9 443.2,2513.9 448.1,2506.2 C453.0,2498.4 456.5,2491.4 460.8,2480.9 C465.0,2470.3 469.9,2457.7 473.4,2442.9 C476.9,2428.2 479.4,2411.3 481.8,2392.4 C484.3,2373.4 486.1,2350.2 488.2,2329.1 C490.3,2308.1 492.4,2290.5 494.5,2265.9 C496.6,2241.3 498.7,2208.3 500.8,2181.6 C502.9,2154.9 505.1,2128.9 507.2,2105.8 C509.3,2082.6 511.4,2058.0 513.5,2042.5 C515.6,2027.1 517.9,2019.0 519.8,2013.0 C521.7,2007.1 523.1,2007.1 524.9,2006.7 C526.6,2006.4 528.4,2006.4 530.4,2010.9 C532.3,2015.5 534.6,2022.5 536.7,2034.1 C538.8,2045.7 540.9,2060.8 543.0,2080.5 C545.1,2100.1 547.2,2128.2 549.4,2152.1 C551.5,2176.0 553.6,2200.6 555.7,2223.8 C557.8,2247.0 559.9,2271.5 562.0,2291.2 C564.1,2310.9 566.2,2326.3 568.3,2341.8 C570.4,2357.2 572.2,2369.9 574.7,2383.9 C577.1,2398.0 580.3,2413.4 583.1,2426.1 C585.9,2438.7 588.0,2447.9 591.5,2459.8 C595.1,2471.7 600.0,2487.2 604.2,2497.7 C608.4,2508.3 612.6,2515.7 616.9,2523.0 C621.1,2530.4 624.6,2536.4 629.5,2542.0 C634.4,2547.6 640.1,2552.5 646.4,2556.7 C652.7,2561.0 660.4,2564.6 667.5,2567.3 C674.5,2570.0 678.0,2571.6 688.6,2572.8 C699.1,2574.0 697.9,2574.2 730.8,2574.5 C763.7,2574.7 860.1,2574.5 886.0,2574.5" fill="none" stroke="#858282" stroke-width="12" stroke-linejoin="round" stroke-linecap="round" />
<path d="M224.0,2541.7 C226.1,2543.5 232.5,2549.1 236.7,2552.3 C240.9,2555.5 244.5,2558.6 249.4,2560.8 C254.3,2562.9 260.0,2563.9 266.3,2565.0 C272.7,2566.0 280.5,2567.1 287.5,2567.1 C294.6,2567.1 301.6,2566.0 308.7,2565.0 C315.8,2563.9 322.8,2562.5 329.9,2560.8 C336.9,2559.0 344.0,2558.3 351.0,2554.4 C358.1,2550.5 365.9,2542.4 372.2,2537.5 C378.6,2532.5 383.5,2527.6 389.2,2524.8 C394.8,2521.9 401.9,2523.3 406.1,2520.5 C410.3,2517.7 411.7,2512.1 414.6,2507.8 C417.4,2503.6 420.2,2500.1 423.0,2495.1 C425.9,2490.2 428.7,2484.5 431.5,2478.2 C434.3,2471.8 437.2,2459.1 440.0,2457.0 C442.8,2454.9 446.0,2450.6 448.4,2465.5 C450.9,2480.3 452.7,2537.5 454.8,2545.9 C456.9,2554.4 458.7,2524.0 461.1,2516.3 C463.6,2508.5 466.8,2505.7 469.6,2499.3 C472.4,2493.0 475.3,2485.9 478.1,2478.2 C480.9,2470.4 483.7,2461.9 486.6,2452.8 C489.4,2443.6 492.2,2433.0 495.0,2423.1 C497.8,2413.2 501.0,2404.8 503.5,2393.5 C506.0,2382.2 507.7,2376.5 509.8,2355.4 C512.0,2334.2 514.4,2291.8 516.2,2266.4 C518.0,2241.0 519.0,2224.1 520.4,2202.9 C521.8,2181.7 523.3,2158.4 524.7,2139.4 C526.1,2120.3 527.1,2102.7 528.9,2088.6 C530.7,2074.5 533.5,2061.8 535.3,2054.7 C537.0,2047.6 538.1,2039.2 539.5,2046.2 C540.9,2053.3 542.3,2074.5 543.7,2097.0 C545.1,2119.6 546.5,2153.5 548.0,2181.7 C549.4,2210.0 550.8,2245.3 552.2,2266.4 C553.6,2287.6 554.7,2295.4 556.4,2308.8 C558.2,2322.2 560.7,2334.2 562.8,2346.9 C564.9,2359.6 566.7,2374.4 569.1,2385.0 C571.6,2395.6 574.4,2404.8 577.6,2410.4 C580.8,2416.1 585.0,2414.7 588.2,2418.9 C591.4,2423.1 593.8,2425.9 596.7,2435.8 C599.5,2445.7 602.3,2464.8 605.1,2478.2 C608.0,2491.6 610.8,2507.1 613.6,2516.3 C616.4,2525.5 619.2,2533.9 622.1,2533.2 C624.9,2532.5 628.1,2521.2 630.5,2512.1 C633.0,2502.9 635.1,2497.9 636.9,2478.2 C638.7,2458.4 640.1,2421.7 641.1,2393.5 C642.2,2365.2 642.2,2337.0 643.2,2308.8 C644.3,2280.6 646.1,2243.8 647.5,2224.1 C648.9,2204.3 650.3,2193.0 651.7,2190.2 C653.1,2187.4 654.5,2194.4 655.9,2207.1 C657.4,2219.9 658.8,2242.4 660.2,2266.4 C661.6,2290.4 663.0,2330.0 664.4,2351.1 C665.8,2372.3 666.9,2380.8 668.7,2393.5 C670.4,2406.2 672.9,2416.8 675.0,2427.4 C677.1,2437.9 678.9,2448.5 681.4,2457.0 C683.8,2465.5 687.0,2473.9 689.8,2478.2 C692.6,2482.4 695.5,2478.9 698.3,2482.4 C701.1,2485.9 703.9,2491.6 706.8,2499.3 C709.6,2507.1 712.4,2521.2 715.2,2529.0 C718.1,2536.8 720.9,2547.3 723.7,2545.9 C726.5,2544.5 729.7,2530.4 732.2,2520.5 C734.6,2510.6 736.8,2497.9 738.5,2486.6 C740.3,2475.3 741.0,2462.3 742.8,2452.8 C744.5,2443.2 747.0,2433.0 749.1,2429.5 C751.2,2425.9 753.7,2427.7 755.5,2431.6 C757.2,2435.5 758.3,2443.9 759.7,2452.8 C761.1,2461.6 762.2,2477.1 763.9,2484.5 C765.7,2491.9 768.2,2497.6 770.3,2497.2 C772.4,2496.9 775.2,2491.2 776.6,2482.4 C778.0,2473.6 777.8,2459.1 778.8,2444.3 C779.7,2429.5 781.1,2416.1 782.1,2393.5 C783.2,2370.9 784.3,2337.0 785.1,2308.8 C786.0,2280.6 786.2,2243.8 787.2,2224.1 C788.3,2204.3 789.7,2193.0 791.5,2190.2 C793.2,2187.4 796.0,2194.4 797.8,2207.1 C799.6,2219.9 800.6,2247.4 802.0,2266.4 C803.5,2285.5 804.9,2304.5 806.3,2321.5 C807.7,2338.4 808.8,2354.7 810.5,2368.1 C812.3,2381.5 814.4,2391.4 816.9,2401.9 C819.3,2412.5 822.5,2423.8 825.3,2431.6 C828.2,2439.4 831.0,2443.2 833.8,2448.5 C836.6,2453.8 839.5,2457.7 842.3,2463.4 C845.1,2469.0 847.9,2475.7 850.7,2482.4 C853.6,2489.1 857.1,2497.2 859.2,2503.6 C861.3,2509.9 861.7,2519.8 863.5,2520.5 C865.2,2521.2 867.3,2512.8 869.8,2507.8 C872.3,2502.9 875.8,2502.9 878.3,2490.9 C880.7,2478.9 882.9,2452.1 884.6,2435.8 C886.4,2419.6 888.2,2400.5 888.9,2393.5" fill="none" stroke="#5f7bc4" stroke-width="6.3" stroke-dasharray="0 18" stroke-linecap="square"/>
<polyline points="224.0,2564.6 227.8,2580.1 230.8,2568.4 233.4,2564.6 236.1,2567.1 239.9,2566.7 242.5,2581.0 246.5,2563.7 249.4,2580.9 252.4,2573.1 256.0,2572.7 258.3,2573.9 262.1,2568.1 265.0,2573.6 269.1,2578.0 271.8,2574.5 275.0,2579.1 279.1,2568.9 283.0,2576.6 285.5,2566.7 289.5,2562.7 292.6,2570.2 295.5,2573.0 298.1,2569.0 301.4,2557.4 305.2,2572.4 309.1,2560.1 312.3,2559.2 316.0,2568.5 319.9,2559.2 322.7,2558.2 326.7,2570.4 329.2,2572.8 332.3,2566.9 336.0,2574.8 339.2,2567.1 342.2,2569.8 344.8,2565.9 348.1,2582.3 351.4,2571.1 353.7,2581.0 356.6,2567.7 360.2,2577.7 362.7,2559.9 365.3,2575.9 368.5,2554.0 376.5,2550.2 384.9,2520.5 393.4,2524.8 397.6,2545.9 405.2,2567.1 412.4,2478.2 420.9,2448.5 426.4,2338.4 431.5,2393.5 435.7,2452.8 444.2,2461.2 448.4,2457.0 454.8,2486.6 461.1,2507.8 464.5,2533.2 471.7,2478.2 478.1,2452.8 488.7,2427.4 495.0,2393.5 501.4,2363.8 505.6,2393.5 508.6,2495.1 514.1,2351.1 518.3,2118.2 522.6,2181.7 526.8,2444.3 528.9,2232.6 535.3,2156.3 537.4,2190.2 539.5,2054.7 543.7,2012.3 550.1,2054.7 554.3,1995.4 558.5,2033.5 560.7,2266.4 562.8,2330.0 564.9,2207.1 569.1,2194.4 575.5,2224.1 581.8,2308.8 588.2,2435.8 596.7,2478.2 603.0,2533.2 613.6,2554.4 620.0,2554.4 626.3,2520.5 634.8,2499.3 641.1,2486.6 645.4,2537.5 649.6,2482.4 655.9,2520.5 660.2,2478.2 665.3,2452.8 670.8,2520.5 675.0,2545.9 685.6,2554.4 698.3,2558.6 700.0,2562.1 702.4,2554.7 705.4,2575.0 708.5,2576.8 711.4,2564.2 713.9,2570.9 716.4,2578.5 719.8,2560.8 723.3,2570.9 726.8,2574.7 729.2,2572.6 732.7,2563.8 736.6,2576.1 739.2,2563.7 742.2,2575.3 745.7,2565.9 749.1,2575.5 751.6,2575.0 755.1,2579.8 757.5,2566.6 761.1,2584.3 764.5,2581.4 767.4,2565.6 770.9,2566.0 774.8,2572.7 777.2,2562.0 780.9,2553.7 783.6,2551.1 787.2,2567.5 790.8,2564.7 793.4,2562.5 797.5,2562.4 800.2,2551.9 804.2,2559.8 807.3,2551.3 809.6,2562.1 813.0,2549.8 815.5,2566.5 819.5,2545.9 822.0,2562.2 825.1,2560.4 828.3,2549.3 832.4,2546.0 836.4,2553.6 838.9,2555.9 843.0,2538.9 846.2,2546.2 849.0,2551.9 853.0,2556.8 856.8,2550.8 860.3,2563.5 863.1,2563.9 866.2,2569.2 869.1,2564.0 872.2,2557.9 875.4,2570.9 878.8,2575.5 882.6,2558.8 885.8,2564.3 888.0,2558.6" fill="none" stroke="#ff0000" stroke-width="10.5" stroke-linejoin="round" stroke-linecap="round" />
</g>
</g>
<g id="pf">
<clipPath id="clipf"><rect x="1122.00" y="1939.00" width="664.00" height="644.50"/></clipPath>
<g clip-path="url(#clipf)">
<path d="M1122.0,2540.0 C1124.1,2541.9 1130.5,2548.1 1134.7,2551.5 C1138.9,2554.9 1142.5,2558.0 1147.4,2560.4 C1152.3,2562.8 1158.0,2564.5 1164.3,2565.9 C1170.7,2567.3 1178.5,2568.1 1185.5,2568.9 C1192.6,2569.6 1198.9,2570.1 1206.7,2570.1 C1214.5,2570.2 1223.6,2570.1 1232.1,2569.3 C1240.6,2568.5 1249.0,2567.3 1257.5,2565.5 C1266.0,2563.6 1274.5,2561.4 1282.9,2558.3 C1291.4,2555.1 1300.6,2551.2 1308.3,2546.4 C1316.1,2541.6 1323.2,2535.8 1329.5,2529.4 C1335.9,2523.1 1341.5,2516.0 1346.4,2508.2 C1351.4,2500.4 1354.9,2493.4 1359.1,2482.8 C1363.4,2472.2 1368.3,2459.5 1371.9,2444.6 C1375.4,2429.8 1377.9,2412.8 1380.3,2393.7 C1382.8,2374.7 1384.6,2351.3 1386.7,2330.1 C1388.8,2308.9 1390.9,2291.3 1393.0,2266.5 C1395.1,2241.8 1397.3,2208.6 1399.4,2181.7 C1401.5,2154.9 1403.6,2128.7 1405.7,2105.4 C1407.8,2082.1 1410.0,2057.3 1412.1,2041.8 C1414.2,2026.3 1416.5,2018.1 1418.4,2012.1 C1420.3,2006.1 1421.8,2006.1 1423.5,2005.8 C1425.3,2005.4 1427.0,2005.4 1429.0,2010.0 C1431.0,2014.6 1433.3,2021.7 1435.4,2033.3 C1437.5,2045.0 1439.6,2060.2 1441.7,2080.0 C1443.8,2099.7 1446.0,2128.0 1448.1,2152.0 C1450.2,2176.1 1452.3,2200.8 1454.4,2224.1 C1456.5,2247.4 1458.7,2272.2 1460.8,2292.0 C1462.9,2311.8 1465.0,2327.3 1467.1,2342.9 C1469.3,2358.4 1471.0,2371.1 1473.5,2385.3 C1476.0,2399.4 1479.1,2414.9 1482.0,2427.7 C1484.8,2440.4 1486.9,2449.6 1490.4,2461.6 C1494.0,2473.6 1498.9,2489.1 1503.1,2499.7 C1507.4,2510.3 1511.6,2517.8 1515.8,2525.2 C1520.1,2532.6 1523.6,2538.6 1528.5,2544.3 C1533.5,2549.9 1539.1,2554.9 1545.5,2559.1 C1551.8,2563.3 1559.6,2567.0 1566.7,2569.7 C1573.7,2572.4 1577.2,2574.0 1587.8,2575.2 C1598.4,2576.4 1597.1,2576.6 1630.2,2576.9 C1663.2,2577.2 1760.0,2576.9 1786.0,2576.9" fill="none" stroke="#858282" stroke-width="12" stroke-linejoin="round" stroke-linecap="round" />
<path d="M1122.0,2541.7 C1124.8,2544.5 1133.3,2554.8 1138.9,2558.6 C1144.6,2562.5 1149.5,2563.6 1155.9,2565.0 C1162.2,2566.4 1170.0,2567.5 1177.1,2567.1 C1184.1,2566.8 1191.2,2564.6 1198.2,2562.9 C1205.3,2561.1 1213.0,2558.3 1219.4,2556.5 C1225.8,2554.8 1231.4,2554.8 1236.3,2552.3 C1241.3,2549.8 1244.8,2545.6 1249.0,2541.7 C1253.3,2537.8 1258.2,2533.2 1261.7,2529.0 C1265.3,2524.8 1266.7,2520.5 1270.2,2516.3 C1273.7,2512.1 1278.7,2507.1 1282.9,2503.6 C1287.2,2500.1 1292.1,2499.3 1295.6,2495.1 C1299.2,2490.9 1301.3,2487.3 1304.1,2478.2 C1306.9,2469.0 1309.7,2449.2 1312.6,2440.1 C1315.4,2430.9 1318.6,2434.4 1321.0,2423.1 C1323.5,2411.8 1325.6,2386.4 1327.4,2372.3 C1329.2,2358.2 1330.2,2342.0 1331.6,2338.4 C1333.0,2334.9 1334.4,2342.0 1335.9,2351.1 C1337.3,2360.3 1338.7,2375.8 1340.1,2393.5 C1341.5,2411.1 1342.9,2438.6 1344.3,2457.0 C1345.7,2475.3 1347.1,2492.3 1348.6,2503.6 C1350.0,2514.9 1351.4,2529.0 1352.8,2524.8 C1354.2,2520.5 1355.6,2493.0 1357.0,2478.2 C1358.4,2463.4 1359.5,2449.9 1361.3,2435.8 C1363.0,2421.7 1365.5,2407.6 1367.6,2393.5 C1369.7,2379.4 1372.2,2368.8 1374.0,2351.1 C1375.7,2333.5 1377.0,2308.8 1378.2,2287.6 C1379.4,2266.4 1380.1,2248.8 1381.2,2224.1 C1382.2,2199.4 1383.3,2164.8 1384.6,2139.4 C1385.8,2114.0 1387.4,2086.5 1388.8,2071.6 C1390.2,2056.8 1391.3,2049.8 1393.0,2050.5 C1394.8,2051.2 1397.6,2061.0 1399.4,2075.9 C1401.1,2090.7 1402.2,2118.2 1403.6,2139.4 C1405.0,2160.6 1406.1,2190.2 1407.8,2202.9 C1409.6,2215.6 1412.4,2214.9 1414.2,2215.6 C1416.0,2216.3 1416.9,2209.3 1418.4,2207.1 C1420.0,2205.0 1421.8,2196.6 1423.5,2202.9 C1425.3,2209.3 1427.6,2231.1 1429.0,2245.3 C1430.4,2259.4 1430.9,2270.0 1432.0,2287.6 C1433.0,2305.3 1434.2,2333.5 1435.4,2351.1 C1436.5,2368.8 1437.7,2382.2 1438.8,2393.5 C1439.8,2404.8 1440.2,2416.8 1441.7,2418.9 C1443.3,2421.0 1445.6,2410.4 1448.1,2406.2 C1450.5,2401.9 1454.1,2402.7 1456.5,2393.5 C1459.0,2384.3 1461.1,2362.4 1462.9,2351.1 C1464.7,2339.8 1465.7,2330.7 1467.1,2325.7 C1468.5,2320.8 1469.6,2317.3 1471.4,2321.5 C1473.1,2325.7 1475.6,2339.1 1477.7,2351.1 C1479.8,2363.1 1482.0,2379.4 1484.1,2393.5 C1486.2,2407.6 1488.3,2425.2 1490.4,2435.8 C1492.5,2446.4 1494.7,2449.9 1496.8,2457.0 C1498.9,2464.1 1500.7,2469.0 1503.1,2478.2 C1505.6,2487.3 1508.8,2501.5 1511.6,2512.1 C1514.4,2522.6 1517.6,2543.8 1520.1,2541.7 C1522.5,2539.6 1524.7,2517.0 1526.4,2499.3 C1528.2,2481.7 1529.6,2457.0 1530.7,2435.8 C1531.7,2414.7 1531.4,2382.2 1532.8,2372.3 C1534.2,2362.4 1537.4,2373.0 1539.1,2376.5 C1540.9,2380.1 1541.9,2385.0 1543.4,2393.5 C1544.8,2401.9 1545.8,2416.8 1547.6,2427.4 C1549.4,2437.9 1551.5,2455.6 1553.9,2457.0 C1556.4,2458.4 1559.9,2442.2 1562.4,2435.8 C1564.9,2429.5 1566.7,2421.0 1568.8,2418.9 C1570.9,2416.8 1572.7,2420.3 1575.1,2423.1 C1577.6,2425.9 1580.4,2434.4 1583.6,2435.8 C1586.8,2437.2 1591.4,2428.1 1594.2,2431.6 C1597.0,2435.1 1598.8,2449.2 1600.5,2457.0 C1602.3,2464.8 1603.4,2471.1 1604.8,2478.2 C1606.2,2485.2 1607.2,2492.3 1609.0,2499.3 C1610.8,2506.4 1613.2,2514.9 1615.4,2520.5 C1617.5,2526.2 1619.6,2532.5 1621.7,2533.2 C1623.8,2533.9 1626.3,2529.0 1628.1,2524.8 C1629.8,2520.5 1630.9,2515.6 1632.3,2507.8 C1633.7,2500.1 1635.1,2488.8 1636.5,2478.2 C1637.9,2467.6 1639.0,2452.8 1640.8,2444.3 C1642.5,2435.8 1644.6,2428.1 1647.1,2427.4 C1649.6,2426.7 1652.8,2434.4 1655.6,2440.1 C1658.4,2445.7 1661.9,2452.1 1664.1,2461.2 C1666.2,2470.4 1666.9,2495.1 1668.3,2495.1 C1669.7,2495.1 1671.1,2472.5 1672.5,2461.2 C1673.9,2449.9 1675.3,2435.8 1676.8,2427.4 C1678.2,2418.9 1679.2,2411.1 1681.0,2410.4 C1682.8,2409.7 1685.6,2418.9 1687.3,2423.1 C1689.1,2427.4 1690.2,2430.2 1691.6,2435.8 C1693.0,2441.5 1694.0,2450.6 1695.8,2457.0 C1697.6,2463.4 1700.4,2475.3 1702.2,2473.9 C1703.9,2472.5 1705.0,2461.9 1706.4,2448.5 C1707.8,2435.1 1709.6,2408.3 1710.6,2393.5 C1711.7,2378.7 1711.3,2366.7 1712.8,2359.6 C1714.2,2352.5 1717.3,2348.3 1719.1,2351.1 C1720.9,2354.0 1721.9,2368.8 1723.3,2376.5 C1724.7,2384.3 1725.5,2392.8 1727.6,2397.7 C1729.7,2402.7 1732.9,2403.4 1736.0,2406.2 C1739.2,2409.0 1743.1,2413.9 1746.6,2414.7 C1750.2,2415.4 1753.3,2413.9 1757.2,2410.4 C1761.1,2406.9 1766.0,2399.1 1769.9,2393.5 C1773.8,2387.8 1777.7,2380.8 1780.5,2376.5 C1783.3,2372.3 1785.8,2369.5 1786.9,2368.1" fill="none" stroke="#5f7bc4" stroke-width="6.3" stroke-dasharray="0 18" stroke-linecap="square"/>
<polyline points="1122.0,2548.0 1125.1,2557.2 1127.6,2556.3 1131.6,2560.2 1134.9,2569.9 1138.0,2555.2 1141.8,2552.2 1145.8,2574.4 1149.1,2562.8 1151.4,2552.6 1155.2,2571.3 1158.6,2551.7 1162.2,2577.4 1166.1,2566.8 1169.2,2560.1 1171.8,2548.4 1175.9,2559.6 1178.8,2561.5 1183.0,2574.2 1186.5,2569.7 1189.8,2565.8 1193.6,2566.6 1195.9,2559.4 1199.3,2564.4 1203.3,2565.2 1206.3,2553.6 1210.1,2562.0 1213.0,2550.3 1216.4,2552.6 1219.9,2563.1 1223.0,2554.0 1225.6,2561.8 1229.2,2557.3 1232.1,2544.0 1234.8,2551.1 1238.5,2562.4 1242.4,2575.4 1245.1,2552.4 1248.8,2561.7 1252.6,2559.0 1255.3,2571.0 1259.0,2556.4 1268.1,2520.5 1272.3,2469.7 1280.8,2427.4 1289.3,2414.7 1295.6,2478.2 1302.0,2558.6 1308.3,2469.7 1314.7,2368.1 1321.0,2359.6 1326.5,2304.5 1331.6,2376.5 1335.9,2427.4 1342.2,2410.4 1346.4,2414.7 1352.8,2372.3 1359.1,2414.7 1363.4,2457.0 1369.7,2363.8 1376.1,2351.1 1384.6,2330.0 1390.9,2321.5 1397.3,2342.7 1405.7,2490.9 1414.2,2317.3 1420.6,2325.7 1426.1,2495.1 1433.3,2338.4 1439.6,2334.2 1448.1,2351.1 1456.5,2372.3 1462.1,2486.6 1467.1,2376.5 1473.5,2351.1 1479.8,2338.4 1486.2,2300.3 1490.4,2266.4 1494.7,1995.4 1498.9,2054.7 1503.1,2266.4 1505.2,2435.8 1509.5,2465.5 1515.8,2448.5 1524.3,2448.5 1530.7,2478.2 1537.0,2507.8 1543.4,2524.8 1549.7,2486.6 1553.9,2520.5 1560.3,2469.7 1566.7,2461.2 1573.0,2503.6 1579.4,2533.2 1580.0,2541.9 1583.9,2525.5 1586.3,2528.8 1590.0,2546.7 1593.6,2534.2 1596.2,2560.2 1599.6,2538.7 1602.1,2560.0 1605.9,2539.4 1610.0,2541.3 1613.0,2558.9 1616.8,2571.2 1619.1,2555.5 1621.6,2552.8 1625.1,2557.1 1628.2,2574.8 1631.9,2570.2 1635.5,2573.7 1638.2,2560.0 1642.2,2560.7 1646.2,2552.9 1649.1,2571.5 1651.8,2580.4 1655.2,2574.3 1658.7,2571.5 1661.2,2554.2 1663.9,2553.2 1666.4,2544.6 1669.6,2569.9 1673.1,2561.1 1677.1,2560.6 1680.4,2562.8 1683.7,2551.0 1686.1,2574.5 1689.2,2574.0 1691.6,2564.1 1695.6,2544.9 1699.7,2552.3 1702.9,2560.9 1706.3,2550.2 1710.3,2548.5 1712.6,2537.9 1716.7,2544.5 1719.6,2556.7 1722.8,2552.3 1726.4,2562.6 1728.9,2566.9 1732.5,2567.9 1736.0,2544.4 1738.4,2571.6 1741.1,2574.9 1745.3,2570.2 1748.9,2543.4 1752.7,2553.3 1756.6,2568.8 1758.9,2550.9 1761.7,2544.1 1765.8,2561.2 1769.1,2564.5 1772.4,2541.6 1775.7,2563.3 1779.3,2568.6 1782.1,2562.7 1785.8,2557.4 1786.0,2554.4" fill="none" stroke="#ff0000" stroke-width="10.5" stroke-linejoin="round" stroke-linecap="round" />
</g>
</g>
<line x1="179.00" y1="115.50" x2="179.00" y2="131.00" stroke="#111" stroke-width="4.5" stroke-linecap="butt"/>
<line x1="179.00" y1="772.00" x2="179.00" y2="787.50" stroke="#111" stroke-width="4.5" stroke-linecap="butt"/>
<line x1="348.38" y1="115.50" x2="348.38" y2="131.00" stroke="#111" stroke-width="4.5" stroke-linecap="butt"/>
<line x1="348.38" y1="772.00" x2="348.38" y2="787.50" stroke="#111" stroke-width="4.5" stroke-linecap="butt"/>
<line x1="517.75" y1="115.50" x2="517.75" y2="131.00" stroke="#111" stroke-width="4.5" stroke-linecap="butt"/>
<line x1="517.75" y1="772.00" x2="517.75" y2="787.50" stroke="#111" stroke-width="4.5" stroke-linecap="butt"/>
<line x1="687.12" y1="115.50" x2="687.12" y2="131.00" stroke="#111" stroke-width="4.5" stroke-linecap="butt"/>
<line x1="687.12" y1="772.00" x2="687.12" y2="787.50" stroke="#111" stroke-width="4.5" stroke-linecap="butt"/>
<line x1="856.50" y1="115.50" x2="856.50" y2="131.00" stroke="#111" stroke-width="4.5" stroke-linecap="butt"/>
<line x1="856.50" y1="772.00" x2="856.50" y2="787.50" stroke="#111" stroke-width="4.5" stroke-linecap="butt"/>
<line x1="263.69" y1="115.50" x2="263.69" y2="125.00" stroke="#111" stroke-width="4.5" stroke-linecap="butt"/>
<line x1="263.69" y1="772.00" x2="263.69" y2="781.50" stroke="#111" stroke-width="4.5" stroke-linecap="butt"/>
<line x1="433.06" y1="115.50" x2="433.06" y2="125.00" stroke="#111" stroke-width="4.5" stroke-linecap="butt"/>
<line x1="433.06" y1="772.00" x2="433.06" y2="781.50" stroke="#111" stroke-width="4.5" stroke-linecap="butt"/>
<line x1="602.44" y1="115.50" x2="602.44" y2="125.00" stroke="#111" stroke-width="4.5" stroke-linecap="butt"/>
<line x1="602.44" y1="772.00" x2="602.44" y2="781.50" stroke="#111" stroke-width="4.5" stroke-linecap="butt"/>
<line x1="771.81" y1="115.50" x2="771.81" y2="125.00" stroke="#111" stroke-width="4.5" stroke-linecap="butt"/>
<line x1="771.81" y1="772.00" x2="771.81" y2="781.50" stroke="#111" stroke-width="4.5" stroke-linecap="butt"/>
<line x1="179.00" y1="772.00" x2="193.50" y2="772.00" stroke="#111" stroke-width="4.5" stroke-linecap="butt"/>
<line x1="856.50" y1="772.00" x2="842.00" y2="772.00" stroke="#111" stroke-width="4.5" stroke-linecap="butt"/>
<line x1="179.00" y1="622.75" x2="188.50" y2="622.75" stroke="#111" stroke-width="4.5" stroke-linecap="butt"/>
<line x1="856.50" y1="622.75" x2="847.00" y2="622.75" stroke="#111" stroke-width="4.5" stroke-linecap="butt"/>
<line x1="179.00" y1="473.50" x2="193.50" y2="473.50" stroke="#111" stroke-width="4.5" stroke-linecap="butt"/>
<line x1="856.50" y1="473.50" x2="842.00" y2="473.50" stroke="#111" stroke-width="4.5" stroke-linecap="butt"/>
<line x1="179.00" y1="324.25" x2="188.50" y2="324.25" stroke="#111" stroke-width="4.5" stroke-linecap="butt"/>
<line x1="856.50" y1="324.25" x2="847.00" y2="324.25" stroke="#111" stroke-width="4.5" stroke-linecap="butt"/>
<line x1="179.00" y1="175.00" x2="193.50" y2="175.00" stroke="#111" stroke-width="4.5" stroke-linecap="butt"/>
<line x1="856.50" y1="175.00" x2="842.00" y2="175.00" stroke="#111" stroke-width="4.5" stroke-linecap="butt"/>
<rect x="179.00" y="115.50" width="677.50" height="656.50" fill="none" stroke="#111" stroke-width="5.5"/>
<line x1="222.00" y1="1068.00" x2="222.00" y2="1083.50" stroke="#111" stroke-width="4.5" stroke-linecap="butt"/>
<line x1="222.00" y1="1713.00" x2="222.00" y2="1697.50" stroke="#111" stroke-width="4.5" stroke-linecap="butt"/>
<line x1="388.00" y1="1068.00" x2="388.00" y2="1083.50" stroke="#111" stroke-width="4.5" stroke-linecap="butt"/>
<line x1="388.00" y1="1713.00" x2="388.00" y2="1697.50" stroke="#111" stroke-width="4.5" stroke-linecap="butt"/>
<line x1="554.00" y1="1068.00" x2="554.00" y2="1083.50" stroke="#111" stroke-width="4.5" stroke-linecap="butt"/>
<line x1="554.00" y1="1713.00" x2="554.00" y2="1697.50" stroke="#111" stroke-width="4.5" stroke-linecap="butt"/>
<line x1="720.00" y1="1068.00" x2="720.00" y2="1083.50" stroke="#111" stroke-width="4.5" stroke-linecap="butt"/>
<line x1="720.00" y1="1713.00" x2="720.00" y2="1697.50" stroke="#111" stroke-width="4.5" stroke-linecap="butt"/>
<line x1="886.00" y1="1068.00" x2="886.00" y2="1083.50" stroke="#111" stroke-width="4.5" stroke-linecap="butt"/>
<line x1="886.00" y1="1713.00" x2="886.00" y2="1697.50" stroke="#111" stroke-width="4.5" stroke-linecap="butt"/>
<line x1="305.00" y1="1068.00" x2="305.00" y2="1077.50" stroke="#111" stroke-width="4.5" stroke-linecap="butt"/>
<line x1="305.00" y1="1713.00" x2="305.00" y2="1703.50" stroke="#111" stroke-width="4.5" stroke-linecap="butt"/>
<line x1="471.00" y1="1068.00" x2="471.00" y2="1077.50" stroke="#111" stroke-width="4.5" stroke-linecap="butt"/>
<line x1="471.00" y1="1713.00" x2="471.00" y2="1703.50" stroke="#111" stroke-width="4.5" stroke-linecap="butt"/>
<line x1="637.00" y1="1068.00" x2="637.00" y2="1077.50" stroke="#111" stroke-width="4.5" stroke-linecap="butt"/>
<line x1="637.00" y1="1713.00" x2="637.00" y2="1703.50" stroke="#111" stroke-width="4.5" stroke-linecap="butt"/>
<line x1="803.00" y1="1068.00" x2="803.00" y2="1077.50" stroke="#111" stroke-width="4.5" stroke-linecap="butt"/>
<line x1="803.00" y1="1713.00" x2="803.00" y2="1703.50" stroke="#111" stroke-width="4.5" stroke-linecap="butt"/>
<line x1="222.00" y1="1713.00" x2="236.50" y2="1713.00" stroke="#111" stroke-width="4.5" stroke-linecap="butt"/>
<line x1="886.00" y1="1713.00" x2="871.50" y2="1713.00" stroke="#111" stroke-width="4.5" stroke-linecap="butt"/>
<line x1="222.00" y1="1566.44" x2="231.50" y2="1566.44" stroke="#111" stroke-width="4.5" stroke-linecap="butt"/>
<line x1="886.00" y1="1566.44" x2="876.50" y2="1566.44" stroke="#111" stroke-width="4.5" stroke-linecap="butt"/>
<line x1="222.00" y1="1419.88" x2="236.50" y2="1419.88" stroke="#111" stroke-width="4.5" stroke-linecap="butt"/>
<line x1="886.00" y1="1419.88" x2="871.50" y2="1419.88" stroke="#111" stroke-width="4.5" stroke-linecap="butt"/>
<line x1="222.00" y1="1273.31" x2="231.50" y2="1273.31" stroke="#111" stroke-width="4.5" stroke-linecap="butt"/>
<line x1="886.00" y1="1273.31" x2="876.50" y2="1273.31" stroke="#111" stroke-width="4.5" stroke-linecap="butt"/>
<line x1="222.00" y1="1126.75" x2="236.50" y2="1126.75" stroke="#111" stroke-width="4.5" stroke-linecap="butt"/>
<line x1="886.00" y1="1126.75" x2="871.50" y2="1126.75" stroke="#111" stroke-width="4.5" stroke-linecap="butt"/>
<rect x="222.00" y="1068.00" width="664.00" height="645.00" fill="none" stroke="#111" stroke-width="5.5"/>
<line x1="1122.50" y1="1068.50" x2="1122.50" y2="1084.00" stroke="#111" stroke-width="4.5" stroke-linecap="butt"/>
<line x1="1122.50" y1="1712.00" x2="1122.50" y2="1696.50" stroke="#111" stroke-width="4.5" stroke-linecap="butt"/>
<line x1="1288.38" y1="1068.50" x2="1288.38" y2="1084.00" stroke="#111" stroke-width="4.5" stroke-linecap="butt"/>
<line x1="1288.38" y1="1712.00" x2="1288.38" y2="1696.50" stroke="#111" stroke-width="4.5" stroke-linecap="butt"/>
<line x1="1454.25" y1="1068.50" x2="1454.25" y2="1084.00" stroke="#111" stroke-width="4.5" stroke-linecap="butt"/>
<line x1="1454.25" y1="1712.00" x2="1454.25" y2="1696.50" stroke="#111" stroke-width="4.5" stroke-linecap="butt"/>
<line x1="1620.12" y1="1068.50" x2="1620.12" y2="1084.00" stroke="#111" stroke-width="4.5" stroke-linecap="butt"/>
<line x1="1620.12" y1="1712.00" x2="1620.12" y2="1696.50" stroke="#111" stroke-width="4.5" stroke-linecap="butt"/>
<line x1="1786.00" y1="1068.50" x2="1786.00" y2="1084.00" stroke="#111" stroke-width="4.5" stroke-linecap="butt"/>
<line x1="1786.00" y1="1712.00" x2="1786.00" y2="1696.50" stroke="#111" stroke-width="4.5" stroke-linecap="butt"/>
<line x1="1205.44" y1="1068.50" x2="1205.44" y2="1078.00" stroke="#111" stroke-width="4.5" stroke-linecap="butt"/>
<line x1="1205.44" y1="1712.00" x2="1205.44" y2="1702.50" stroke="#111" stroke-width="4.5" stroke-linecap="butt"/>
<line x1="1371.31" y1="1068.50" x2="1371.31" y2="1078.00" stroke="#111" stroke-width="4.5" stroke-linecap="butt"/>
<line x1="1371.31" y1="1712.00" x2="1371.31" y2="1702.50" stroke="#111" stroke-width="4.5" stroke-linecap="butt"/>
<line x1="1537.19" y1="1068.50" x2="1537.19" y2="1078.00" stroke="#111" stroke-width="4.5" stroke-linecap="butt"/>
<line x1="1537.19" y1="1712.00" x2="1537.19" y2="1702.50" stroke="#111" stroke-width="4.5" stroke-linecap="butt"/>
<line x1="1703.06" y1="1068.50" x2="1703.06" y2="1078.00" stroke="#111" stroke-width="4.5" stroke-linecap="butt"/>
<line x1="1703.06" y1="1712.00" x2="1703.06" y2="1702.50" stroke="#111" stroke-width="4.5" stroke-linecap="butt"/>
<line x1="1122.50" y1="1712.00" x2="1137.00" y2="1712.00" stroke="#111" stroke-width="4.5" stroke-linecap="butt"/>
<line x1="1786.00" y1="1712.00" x2="1771.50" y2="1712.00" stroke="#111" stroke-width="4.5" stroke-linecap="butt"/>
<line x1="1122.50" y1="1565.75" x2="1132.00" y2="1565.75" stroke="#111" stroke-width="4.5" stroke-linecap="butt"/>
<line x1="1786.00" y1="1565.75" x2="1776.50" y2="1565.75" stroke="#111" stroke-width="4.5" stroke-linecap="butt"/>
<line x1="1122.50" y1="1419.50" x2="1137.00" y2="1419.50" stroke="#111" stroke-width="4.5" stroke-linecap="butt"/>
<line x1="1786.00" y1="1419.50" x2="1771.50" y2="1419.50" stroke="#111" stroke-width="4.5" stroke-linecap="butt"/>
<line x1="1122.50" y1="1273.25" x2="1132.00" y2="1273.25" stroke="#111" stroke-width="4.5" stroke-linecap="butt"/>
<line x1="1786.00" y1="1273.25" x2="1776.50" y2="1273.25" stroke="#111" stroke-width="4.5" stroke-linecap="butt"/>
<line x1="1122.50" y1="1127.00" x2="1137.00" y2="1127.00" stroke="#111" stroke-width="4.5" stroke-linecap="butt"/>
<line x1="1786.00" y1="1127.00" x2="1771.50" y2="1127.00" stroke="#111" stroke-width="4.5" stroke-linecap="butt"/>
<rect x="1122.50" y="1068.50" width="663.50" height="643.50" fill="none" stroke="#111" stroke-width="5.5"/>
<line x1="224.50" y1="1939.00" x2="224.50" y2="1954.50" stroke="#111" stroke-width="4.5" stroke-linecap="butt"/>
<line x1="224.50" y1="2581.00" x2="224.50" y2="2565.50" stroke="#111" stroke-width="4.5" stroke-linecap="butt"/>
<line x1="389.88" y1="1939.00" x2="389.88" y2="1954.50" stroke="#111" stroke-width="4.5" stroke-linecap="butt"/>
<line x1="389.88" y1="2581.00" x2="389.88" y2="2565.50" stroke="#111" stroke-width="4.5" stroke-linecap="butt"/>
<line x1="555.25" y1="1939.00" x2="555.25" y2="1954.50" stroke="#111" stroke-width="4.5" stroke-linecap="butt"/>
<line x1="555.25" y1="2581.00" x2="555.25" y2="2565.50" stroke="#111" stroke-width="4.5" stroke-linecap="butt"/>
<line x1="720.62" y1="1939.00" x2="720.62" y2="1954.50" stroke="#111" stroke-width="4.5" stroke-linecap="butt"/>
<line x1="720.62" y1="2581.00" x2="720.62" y2="2565.50" stroke="#111" stroke-width="4.5" stroke-linecap="butt"/>
<line x1="886.00" y1="1939.00" x2="886.00" y2="1954.50" stroke="#111" stroke-width="4.5" stroke-linecap="butt"/>
<line x1="886.00" y1="2581.00" x2="886.00" y2="2565.50" stroke="#111" stroke-width="4.5" stroke-linecap="butt"/>
<line x1="307.19" y1="1939.00" x2="307.19" y2="1948.50" stroke="#111" stroke-width="4.5" stroke-linecap="butt"/>
<line x1="307.19" y1="2581.00" x2="307.19" y2="2571.50" stroke="#111" stroke-width="4.5" stroke-linecap="butt"/>
<line x1="472.56" y1="1939.00" x2="472.56" y2="1948.50" stroke="#111" stroke-width="4.5" stroke-linecap="butt"/>
<line x1="472.56" y1="2581.00" x2="472.56" y2="2571.50" stroke="#111" stroke-width="4.5" stroke-linecap="butt"/>
<line x1="637.94" y1="1939.00" x2="637.94" y2="1948.50" stroke="#111" stroke-width="4.5" stroke-linecap="butt"/>
<line x1="637.94" y1="2581.00" x2="637.94" y2="2571.50" stroke="#111" stroke-width="4.5" stroke-linecap="butt"/>
<line x1="803.31" y1="1939.00" x2="803.31" y2="1948.50" stroke="#111" stroke-width="4.5" stroke-linecap="butt"/>
<line x1="803.31" y1="2581.00" x2="803.31" y2="2571.50" stroke="#111" stroke-width="4.5" stroke-linecap="butt"/>
<line x1="224.50" y1="2581.00" x2="239.00" y2="2581.00" stroke="#111" stroke-width="4.5" stroke-linecap="butt"/>
<line x1="886.00" y1="2581.00" x2="871.50" y2="2581.00" stroke="#111" stroke-width="4.5" stroke-linecap="butt"/>
<line x1="224.50" y1="2435.12" x2="234.00" y2="2435.12" stroke="#111" stroke-width="4.5" stroke-linecap="butt"/>
<line x1="886.00" y1="2435.12" x2="876.50" y2="2435.12" stroke="#111" stroke-width="4.5" stroke-linecap="butt"/>
<line x1="224.50" y1="2289.25" x2="239.00" y2="2289.25" stroke="#111" stroke-width="4.5" stroke-linecap="butt"/>
<line x1="886.00" y1="2289.25" x2="871.50" y2="2289.25" stroke="#111" stroke-width="4.5" stroke-linecap="butt"/>
<line x1="224.50" y1="2143.38" x2="234.00" y2="2143.38" stroke="#111" stroke-width="4.5" stroke-linecap="butt"/>
<line x1="886.00" y1="2143.38" x2="876.50" y2="2143.38" stroke="#111" stroke-width="4.5" stroke-linecap="butt"/>
<line x1="224.50" y1="1997.50" x2="239.00" y2="1997.50" stroke="#111" stroke-width="4.5" stroke-linecap="butt"/>
<line x1="886.00" y1="1997.50" x2="871.50" y2="1997.50" stroke="#111" stroke-width="4.5" stroke-linecap="butt"/>
<rect x="224.50" y="1939.00" width="661.50" height="642.00" fill="none" stroke="#111" stroke-width="5.5"/>
<line x1="1122.00" y1="1939.00" x2="1122.00" y2="1954.50" stroke="#111" stroke-width="4.5" stroke-linecap="butt"/>
<line x1="1122.00" y1="2583.50" x2="1122.00" y2="2568.00" stroke="#111" stroke-width="4.5" stroke-linecap="butt"/>
<line x1="1288.00" y1="1939.00" x2="1288.00" y2="1954.50" stroke="#111" stroke-width="4.5" stroke-linecap="butt"/>
<line x1="1288.00" y1="2583.50" x2="1288.00" y2="2568.00" stroke="#111" stroke-width="4.5" stroke-linecap="butt"/>
<line x1="1454.00" y1="1939.00" x2="1454.00" y2="1954.50" stroke="#111" stroke-width="4.5" stroke-linecap="butt"/>
<line x1="1454.00" y1="2583.50" x2="1454.00" y2="2568.00" stroke="#111" stroke-width="4.5" stroke-linecap="butt"/>
<line x1="1620.00" y1="1939.00" x2="1620.00" y2="1954.50" stroke="#111" stroke-width="4.5" stroke-linecap="butt"/>
<line x1="1620.00" y1="2583.50" x2="1620.00" y2="2568.00" stroke="#111" stroke-width="4.5" stroke-linecap="butt"/>
<line x1="1786.00" y1="1939.00" x2="1786.00" y2="1954.50" stroke="#111" stroke-width="4.5" stroke-linecap="butt"/>
<line x1="1786.00" y1="2583.50" x2="1786.00" y2="2568.00" stroke="#111" stroke-width="4.5" stroke-linecap="butt"/>
<line x1="1205.00" y1="1939.00" x2="1205.00" y2="1948.50" stroke="#111" stroke-width="4.5" stroke-linecap="butt"/>
<line x1="1205.00" y1="2583.50" x2="1205.00" y2="2574.00" stroke="#111" stroke-width="4.5" stroke-linecap="butt"/>
<line x1="1371.00" y1="1939.00" x2="1371.00" y2="1948.50" stroke="#111" stroke-width="4.5" stroke-linecap="butt"/>
<line x1="1371.00" y1="2583.50" x2="1371.00" y2="2574.00" stroke="#111" stroke-width="4.5" stroke-linecap="butt"/>
<line x1="1537.00" y1="1939.00" x2="1537.00" y2="1948.50" stroke="#111" stroke-width="4.5" stroke-linecap="butt"/>
<line x1="1537.00" y1="2583.50" x2="1537.00" y2="2574.00" stroke="#111" stroke-width="4.5" stroke-linecap="butt"/>
<line x1="1703.00" y1="1939.00" x2="1703.00" y2="1948.50" stroke="#111" stroke-width="4.5" stroke-linecap="butt"/>
<line x1="1703.00" y1="2583.50" x2="1703.00" y2="2574.00" stroke="#111" stroke-width="4.5" stroke-linecap="butt"/>
<line x1="1122.00" y1="2583.50" x2="1136.50" y2="2583.50" stroke="#111" stroke-width="4.5" stroke-linecap="butt"/>
<line x1="1786.00" y1="2583.50" x2="1771.50" y2="2583.50" stroke="#111" stroke-width="4.5" stroke-linecap="butt"/>
<line x1="1122.00" y1="2436.75" x2="1131.50" y2="2436.75" stroke="#111" stroke-width="4.5" stroke-linecap="butt"/>
<line x1="1786.00" y1="2436.75" x2="1776.50" y2="2436.75" stroke="#111" stroke-width="4.5" stroke-linecap="butt"/>
<line x1="1122.00" y1="2290.00" x2="1136.50" y2="2290.00" stroke="#111" stroke-width="4.5" stroke-linecap="butt"/>
<line x1="1786.00" y1="2290.00" x2="1771.50" y2="2290.00" stroke="#111" stroke-width="4.5" stroke-linecap="butt"/>
<line x1="1122.00" y1="2143.25" x2="1131.50" y2="2143.25" stroke="#111" stroke-width="4.5" stroke-linecap="butt"/>
<line x1="1786.00" y1="2143.25" x2="1776.50" y2="2143.25" stroke="#111" stroke-width="4.5" stroke-linecap="butt"/>
<line x1="1122.00" y1="1996.50" x2="1136.50" y2="1996.50" stroke="#111" stroke-width="4.5" stroke-linecap="butt"/>
<line x1="1786.00" y1="1996.50" x2="1771.50" y2="1996.50" stroke="#111" stroke-width="4.5" stroke-linecap="butt"/>
<rect x="1122.00" y="1939.00" width="664.00" height="644.50" fill="none" stroke="#111" stroke-width="5.5"/>
<line x1="1134.50" y1="120.00" x2="1134.50" y2="135.50" stroke="#111" stroke-width="4.5" stroke-linecap="butt"/>
<line x1="1134.50" y1="777.50" x2="1134.50" y2="762.00" stroke="#111" stroke-width="4.5" stroke-linecap="butt"/>
<line x1="1217.25" y1="120.00" x2="1217.25" y2="129.50" stroke="#111" stroke-width="4.5" stroke-linecap="butt"/>
<line x1="1217.25" y1="777.50" x2="1217.25" y2="768.00" stroke="#111" stroke-width="4.5" stroke-linecap="butt"/>
<line x1="1300.00" y1="120.00" x2="1300.00" y2="135.50" stroke="#111" stroke-width="4.5" stroke-linecap="butt"/>
<line x1="1300.00" y1="777.50" x2="1300.00" y2="762.00" stroke="#111" stroke-width="4.5" stroke-linecap="butt"/>
<line x1="1382.75" y1="120.00" x2="1382.75" y2="129.50" stroke="#111" stroke-width="4.5" stroke-linecap="butt"/>
<line x1="1382.75" y1="777.50" x2="1382.75" y2="768.00" stroke="#111" stroke-width="4.5" stroke-linecap="butt"/>
<line x1="1472.50" y1="120.00" x2="1472.50" y2="135.50" stroke="#111" stroke-width="4.5" stroke-linecap="butt"/>
<line x1="1472.50" y1="777.50" x2="1472.50" y2="762.00" stroke="#111" stroke-width="4.5" stroke-linecap="butt"/>
<line x1="1550.00" y1="120.00" x2="1550.00" y2="129.50" stroke="#111" stroke-width="4.5" stroke-linecap="butt"/>
<line x1="1550.00" y1="777.50" x2="1550.00" y2="768.00" stroke="#111" stroke-width="4.5" stroke-linecap="butt"/>
<line x1="1627.50" y1="120.00" x2="1627.50" y2="135.50" stroke="#111" stroke-width="4.5" stroke-linecap="butt"/>
<line x1="1627.50" y1="777.50" x2="1627.50" y2="762.00" stroke="#111" stroke-width="4.5" stroke-linecap="butt"/>
<line x1="1705.00" y1="120.00" x2="1705.00" y2="129.50" stroke="#111" stroke-width="4.5" stroke-linecap="butt"/>
<line x1="1705.00" y1="777.50" x2="1705.00" y2="768.00" stroke="#111" stroke-width="4.5" stroke-linecap="butt"/>
<line x1="1782.50" y1="120.00" x2="1782.50" y2="135.50" stroke="#111" stroke-width="4.5" stroke-linecap="butt"/>
<line x1="1782.50" y1="777.50" x2="1782.50" y2="762.00" stroke="#111" stroke-width="4.5" stroke-linecap="butt"/>
<line x1="1077.50" y1="777.50" x2="1092.00" y2="777.50" stroke="#111" stroke-width="4.5" stroke-linecap="butt"/>
<line x1="1782.00" y1="777.50" x2="1767.50" y2="777.50" stroke="#111" stroke-width="4.5" stroke-linecap="butt"/>
<line x1="1077.50" y1="628.31" x2="1087.00" y2="628.31" stroke="#111" stroke-width="4.5" stroke-linecap="butt"/>
<line x1="1782.00" y1="628.31" x2="1772.50" y2="628.31" stroke="#111" stroke-width="4.5" stroke-linecap="butt"/>
<line x1="1077.50" y1="479.12" x2="1092.00" y2="479.12" stroke="#111" stroke-width="4.5" stroke-linecap="butt"/>
<line x1="1782.00" y1="479.12" x2="1767.50" y2="479.12" stroke="#111" stroke-width="4.5" stroke-linecap="butt"/>
<line x1="1077.50" y1="329.94" x2="1087.00" y2="329.94" stroke="#111" stroke-width="4.5" stroke-linecap="butt"/>
<line x1="1782.00" y1="329.94" x2="1772.50" y2="329.94" stroke="#111" stroke-width="4.5" stroke-linecap="butt"/>
<line x1="1077.50" y1="180.75" x2="1092.00" y2="180.75" stroke="#111" stroke-width="4.5" stroke-linecap="butt"/>
<line x1="1782.00" y1="180.75" x2="1767.50" y2="180.75" stroke="#111" stroke-width="4.5" stroke-linecap="butt"/>
<rect x="1077.50" y="120.00" width="704.50" height="657.50" fill="none" stroke="#111" stroke-width="5.5"/>
<rect x="1380" y="770" width="14" height="15" fill="#fff"/>
<line x1="1376.00" y1="792.00" x2="1388.00" y2="763.00" stroke="#111" stroke-width="4.5" stroke-linecap="butt"/>
<line x1="1388.00" y1="792.00" x2="1400.00" y2="763.00" stroke="#111" stroke-width="4.5" stroke-linecap="butt"/>
<rect x="435.00" y="85.00" width="165.00" height="60.60" fill="#fff" stroke="#707070" stroke-width="4"/>
<text transform="translate(445.53,130.80) scale(0.3935,0.4579)" font-size="100" fill="#1a1a1a" >9.15 μm</text>
<rect x="1319.00" y="87.50" width="204.50" height="65.50" fill="#fff" stroke="#707070" stroke-width="4"/>
<text transform="translate(1340.63,136.14) scale(0.3957,0.4663)" font-size="100" fill="#1a1a1a" >11.97 μm</text>
<rect x="474.00" y="1038.40" width="157.00" height="60.00" fill="#fff" stroke="#707070" stroke-width="4"/>
<text transform="translate(484.60,1083.14) scale(0.3759,0.4663)" font-size="100" fill="#1a1a1a" >8.54 μm</text>
<rect x="1374.00" y="1039.40" width="157.00" height="61.10" fill="#fff" stroke="#707070" stroke-width="4"/>
<text transform="translate(1384.92,1086.03) scale(0.3750,0.4719)" font-size="100" fill="#1a1a1a" >9.15 μm</text>
<rect x="460.70" y="1911.70" width="182.20" height="61.00" fill="#fff" stroke="#707070" stroke-width="4"/>
<text transform="translate(474.52,1958.12) scale(0.3728,0.4674)" font-size="100" fill="#1a1a1a" >10.56 μm</text>
<rect x="1359.00" y="1910.00" width="184.00" height="61.00" fill="#fff" stroke="#707070" stroke-width="4"/>
<text transform="translate(1374.78,1955.27) scale(0.3778,0.4596)" font-size="100" fill="#1a1a1a" >11.97 μm</text>
<text transform="translate(119.28,784.16) scale(0.3520,0.4250)" font-size="100" fill="#333" >0.0</text>
<text transform="translate(119.28,485.66) scale(0.3520,0.4250)" font-size="100" fill="#333" >0.5</text>
<text transform="translate(119.28,187.16) scale(0.3520,0.4250)" font-size="100" fill="#333" >1.0</text>
<text transform="translate(155.04,825.58) scale(0.3520,0.4250)" font-size="100" fill="#333" >8.0</text>
<text transform="translate(324.24,825.58) scale(0.3520,0.4250)" font-size="100" fill="#333" >9.0</text>
<text transform="translate(483.23,825.58) scale(0.3520,0.4250)" font-size="100" fill="#333" >10.0</text>
<text transform="translate(654.01,825.58) scale(0.3520,0.4250)" font-size="100" fill="#333" >11.0</text>
<text transform="translate(821.98,825.58) scale(0.3520,0.4250)" font-size="100" fill="#333" >12.0</text>
<text transform="translate(1016.55,789.49) scale(0.3500,0.4200)" font-size="100" fill="#333" >0.0</text>
<text transform="translate(1016.55,491.11) scale(0.3500,0.4200)" font-size="100" fill="#333" >0.5</text>
<text transform="translate(1016.55,192.74) scale(0.3500,0.4200)" font-size="100" fill="#333" >1.0</text>
<text transform="translate(1111.02,823.38) scale(0.3500,0.4200)" font-size="100" fill="#333" >4.0</text>
<text transform="translate(1276.00,823.38) scale(0.3500,0.4200)" font-size="100" fill="#333" >6.0</text>
<text transform="translate(1438.17,823.38) scale(0.3500,0.4200)" font-size="100" fill="#333" >16.0</text>
<text transform="translate(1593.17,823.38) scale(0.3500,0.4200)" font-size="100" fill="#333" >18.0</text>
<text transform="translate(1748.70,823.38) scale(0.3500,0.4200)" font-size="100" fill="#333" >20.0</text>
<text transform="translate(164.07,1724.99) scale(0.3380,0.4200)" font-size="100" fill="#333" >0.0</text>
<text transform="translate(164.07,1431.86) scale(0.3380,0.4200)" font-size="100" fill="#333" >0.5</text>
<text transform="translate(164.07,1138.74) scale(0.3380,0.4200)" font-size="100" fill="#333" >1.0</text>
<text transform="translate(199.01,1758.58) scale(0.3380,0.4200)" font-size="100" fill="#333" >8.0</text>
<text transform="translate(364.84,1758.58) scale(0.3380,0.4200)" font-size="100" fill="#333" >9.0</text>
<text transform="translate(520.87,1758.58) scale(0.3380,0.4200)" font-size="100" fill="#333" >10.0</text>
<text transform="translate(688.22,1758.58) scale(0.3380,0.4200)" font-size="100" fill="#333" >11.0</text>
<text transform="translate(852.87,1758.58) scale(0.3380,0.4200)" font-size="100" fill="#333" >12.0</text>
<text transform="translate(1065.37,1723.99) scale(0.3380,0.4200)" font-size="100" fill="#333" >0.0</text>
<text transform="translate(1065.37,1431.49) scale(0.3380,0.4200)" font-size="100" fill="#333" >0.5</text>
<text transform="translate(1065.37,1138.99) scale(0.3380,0.4200)" font-size="100" fill="#333" >1.0</text>
<text transform="translate(1099.51,1757.08) scale(0.3380,0.4200)" font-size="100" fill="#333" >8.0</text>
<text transform="translate(1265.21,1757.08) scale(0.3380,0.4200)" font-size="100" fill="#333" >9.0</text>
<text transform="translate(1421.12,1757.08) scale(0.3380,0.4200)" font-size="100" fill="#333" >10.0</text>
<text transform="translate(1588.35,1757.08) scale(0.3380,0.4200)" font-size="100" fill="#333" >11.0</text>
<text transform="translate(1752.87,1757.08) scale(0.3380,0.4200)" font-size="100" fill="#333" >12.0</text>
<text transform="translate(165.37,2592.99) scale(0.3380,0.4200)" font-size="100" fill="#333" >0.0</text>
<text transform="translate(165.37,2301.24) scale(0.3380,0.4200)" font-size="100" fill="#333" >0.5</text>
<text transform="translate(165.37,2009.49) scale(0.3380,0.4200)" font-size="100" fill="#333" >1.0</text>
<text transform="translate(201.51,2628.33) scale(0.3380,0.4200)" font-size="100" fill="#333" >8.0</text>
<text transform="translate(366.71,2628.33) scale(0.3380,0.4200)" font-size="100" fill="#333" >9.0</text>
<text transform="translate(522.12,2628.33) scale(0.3380,0.4200)" font-size="100" fill="#333" >10.0</text>
<text transform="translate(688.85,2628.33) scale(0.3380,0.4200)" font-size="100" fill="#333" >11.0</text>
<text transform="translate(852.87,2628.33) scale(0.3380,0.4200)" font-size="100" fill="#333" >12.0</text>
<text transform="translate(1064.37,2595.49) scale(0.3380,0.4200)" font-size="100" fill="#333" >0.0</text>
<text transform="translate(1064.37,2301.99) scale(0.3380,0.4200)" font-size="100" fill="#333" >0.5</text>
<text transform="translate(1064.37,2008.49) scale(0.3380,0.4200)" font-size="100" fill="#333" >1.0</text>
<text transform="translate(1099.01,2629.08) scale(0.3380,0.4200)" font-size="100" fill="#333" >8.0</text>
<text transform="translate(1264.84,2629.08) scale(0.3380,0.4200)" font-size="100" fill="#333" >9.0</text>
<text transform="translate(1420.87,2629.08) scale(0.3380,0.4200)" font-size="100" fill="#333" >10.0</text>
<text transform="translate(1588.22,2629.08) scale(0.3380,0.4200)" font-size="100" fill="#333" >11.0</text>
<text transform="translate(1752.87,2629.08) scale(0.3380,0.4200)" font-size="100" fill="#333" >12.0</text>
<rect x="1814" y="785" width="22" height="50" fill="#fff"/>
<text transform="translate(350.16,900.39) scale(0.4484,0.5053)" font-size="100" fill="#222" >Frequency (THz)</text>
<text transform="translate(70.62,695.72) scale(0.4468,0.5153) rotate(-90)" font-size="100" fill="#222" >Photovoltage (a.u.)</text>
<text transform="translate(1266.88,900.36) scale(0.4528,0.5186)" font-size="100" fill="#222" >Frequency (THz)</text>
<text transform="translate(991.40,667.68) scale(0.4096,0.4603) rotate(-90)" font-size="100" fill="#222" >Photovoltage (a.u.)</text>
<text transform="translate(393.58,1834.66) scale(0.4280,0.5160)" font-size="100" fill="#222" >Frequency (THz)</text>
<text transform="translate(119.62,1645.39) scale(0.4468,0.5233) rotate(-90)" font-size="100" fill="#222" >Photovoltage (a.u.)</text>
<text transform="translate(1294.08,1832.78) scale(0.4273,0.5106)" font-size="100" fill="#222" >Frequency (THz)</text>
<text transform="translate(1018.84,1644.18) scale(0.4362,0.5219) rotate(-90)" font-size="100" fill="#222" >Photovoltage (a.u.)</text>
<text transform="translate(393.58,2703.78) scale(0.4276,0.5106)" font-size="100" fill="#222" >Frequency (THz)</text>
<text transform="translate(119.62,2515.38) scale(0.4468,0.5220) rotate(-90)" font-size="100" fill="#222" >Photovoltage (a.u.)</text>
<text transform="translate(1292.08,2704.78) scale(0.4273,0.5106)" font-size="100" fill="#222" >Frequency (THz)</text>
<text transform="translate(1018.84,2515.38) scale(0.4362,0.5220) rotate(-90)" font-size="100" fill="#222" >Photovoltage (a.u.)</text>
<text transform="translate(43.80,96.56) scale(0.9250,0.9436)" font-size="100" fill="#000" >a</text>
<text transform="translate(936.99,98.10) scale(1.0375,0.9932)" font-size="100" fill="#000" >b</text>
<text transform="translate(46.91,1022.83) scale(1.0233,0.9691)" font-size="100" fill="#000" >c</text>
<text transform="translate(949.65,1045.74) scale(1.0133,0.9568)" font-size="100" fill="#000" >d</text>
<text transform="translate(44.48,1936.32) scale(1.0043,0.9800)" font-size="100" fill="#000" >e</text>
<text transform="translate(961.88,1950.31) scale(1.1222,1.0097)" font-size="100" fill="#000" >f</text>
<line x1="633.00" y1="151.70" x2="709.00" y2="151.70" stroke="#000" stroke-width="10" stroke-linecap="round"/>
<line x1="633.00" y1="200.40" x2="709.00" y2="200.40" stroke="#ff0000" stroke-width="10" stroke-linecap="round"/>
<line x1="633.00" y1="249.30" x2="709.00" y2="249.30" stroke="#00b400" stroke-width="9.5" stroke-linecap="round"/>
<line x1="639.00" y1="298.00" x2="703.00" y2="298.00" stroke="#858282" stroke-width="22" stroke-linecap="round"/>
<text transform="translate(717.49,164.62) scale(0.3582,0.3894)" font-size="100" fill="#222" >unpol.</text>
<text transform="translate(718.97,214.30) scale(0.3448,0.4275)" font-size="100" fill="#222" ><tspan font-style="italic">Ex</tspan></text>
<text transform="translate(718.92,262.76) scale(0.3585,0.4256)" font-size="100" fill="#222" ><tspan font-style="italic">Ey</tspan></text>
<text transform="translate(718.96,311.36) scale(0.3473,0.4256)" font-size="100" fill="#222" ><tspan font-style="italic">Ex</tspan> + <tspan font-style="italic">Ey</tspan></text>
</svg></body></html>
